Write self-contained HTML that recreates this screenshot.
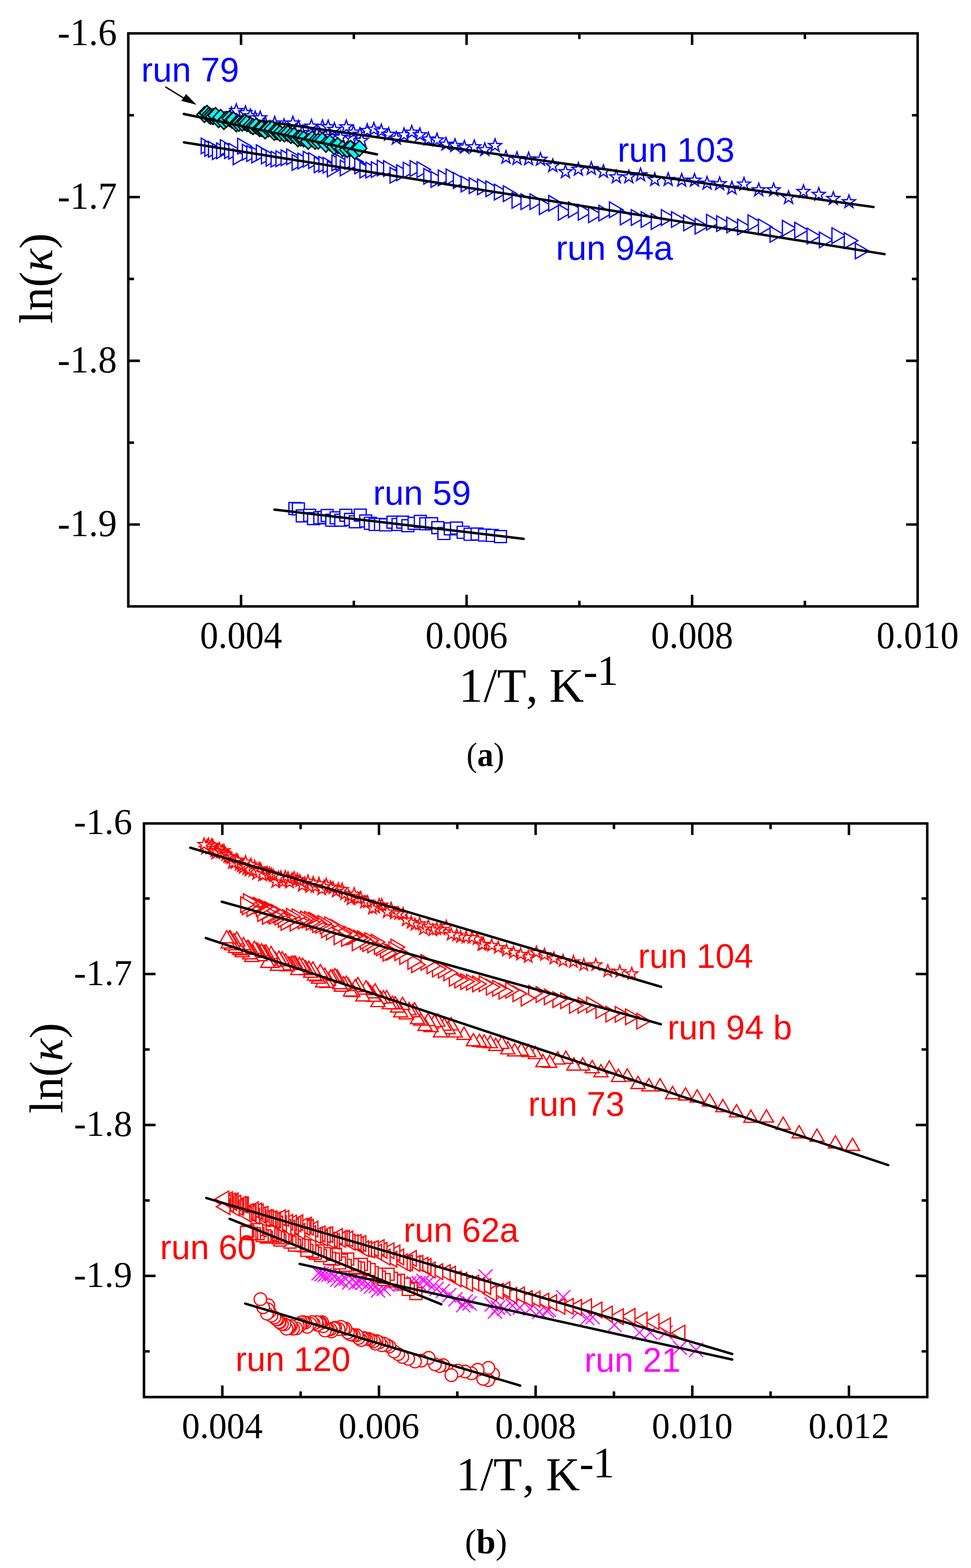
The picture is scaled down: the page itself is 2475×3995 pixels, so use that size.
<!DOCTYPE html>
<html><head><meta charset="utf-8"><title>ln(kappa) vs 1/T</title>
<style>html,body{margin:0;padding:0;background:#fff;}svg{display:block;}</style></head>
<body><svg width="2475" height="3995" viewBox="0 0 2475 3995">
<rect width="2475" height="3995" fill="#fff"/>
<rect x="327" y="85" width="2012" height="1460" fill="none" stroke="#000" stroke-width="6.4"/>
<path d="M614.4 1545v-29.5M614.4 85v29.5M1189.3 1545v-29.5M1189.3 85v29.5M1764.1 1545v-29.5M1764.1 85v29.5M901.9 1545v-14.5M901.9 85v14.5M1476.7 1545v-14.5M1476.7 85v14.5M2051.6 1545v-14.5M2051.6 85v14.5M327 502.1h29.5M2339 502.1h-29.5M327 919.3h29.5M2339 919.3h-29.5M327 1336.4h29.5M2339 1336.4h-29.5M327 293.6h14.5M2339 293.6h-14.5M327 710.7h14.5M2339 710.7h-14.5M327 1127.8h14.5M2339 1127.8h-14.5" stroke="#000" stroke-width="6.4" fill="none"/>
<rect x="367" y="2098" width="1996.5" height="1461.5" fill="none" stroke="#000" stroke-width="6.4"/>
<path d="M566.7 3559.5v-29.5M566.7 2098v29.5M966.0 3559.5v-29.5M966.0 2098v29.5M1365.3 3559.5v-29.5M1365.3 2098v29.5M1764.6 3559.5v-29.5M1764.6 2098v29.5M2163.9 3559.5v-29.5M2163.9 2098v29.5M766.3 3559.5v-14.5M766.3 2098v14.5M1165.6 3559.5v-14.5M1165.6 2098v14.5M1564.9 3559.5v-14.5M1564.9 2098v14.5M1964.2 3559.5v-14.5M1964.2 2098v14.5M367 2481.6h29.5M2363.5 2481.6h-29.5M367 2866.2h29.5M2363.5 2866.2h-29.5M367 3250.8h29.5M2363.5 3250.8h-29.5M367 2289.3h14.5M2363.5 2289.3h-14.5M367 2673.9h14.5M2363.5 2673.9h-14.5M367 3058.5h14.5M2363.5 3058.5h-14.5M367 3443.1h14.5M2363.5 3443.1h-14.5" stroke="#000" stroke-width="6.4" fill="none"/>
<text transform="translate(614.4285714285713 1651) scale(0.955 1)" text-anchor="middle" font-family="Liberation Serif, serif" font-size="97.5">0.004</text>
<text transform="translate(1189.2857142857142 1651) scale(0.955 1)" text-anchor="middle" font-family="Liberation Serif, serif" font-size="97.5">0.006</text>
<text transform="translate(1764.142857142857 1651) scale(0.955 1)" text-anchor="middle" font-family="Liberation Serif, serif" font-size="97.5">0.008</text>
<text transform="translate(2339.0 1651) scale(0.955 1)" text-anchor="middle" font-family="Liberation Serif, serif" font-size="97.5">0.010</text>
<text transform="translate(298 114.5) scale(0.985 1)" text-anchor="end" font-family="Liberation Serif, serif" font-size="97">-1.6</text>
<text transform="translate(298 531.6399999999994) scale(0.985 1)" text-anchor="end" font-family="Liberation Serif, serif" font-size="97">-1.7</text>
<text transform="translate(298 948.7799999999997) scale(0.985 1)" text-anchor="end" font-family="Liberation Serif, serif" font-size="97">-1.8</text>
<text transform="translate(298 1365.9199999999992) scale(0.985 1)" text-anchor="end" font-family="Liberation Serif, serif" font-size="97">-1.9</text>
<text transform="translate(566.6500000000001 3664) scale(0.985 1)" text-anchor="middle" font-family="Liberation Serif, serif" font-size="93">0.004</text>
<text transform="translate(965.95 3664) scale(0.985 1)" text-anchor="middle" font-family="Liberation Serif, serif" font-size="93">0.006</text>
<text transform="translate(1365.2500000000002 3664) scale(0.985 1)" text-anchor="middle" font-family="Liberation Serif, serif" font-size="93">0.008</text>
<text transform="translate(1764.5500000000002 3664) scale(0.985 1)" text-anchor="middle" font-family="Liberation Serif, serif" font-size="93">0.010</text>
<text transform="translate(2163.8500000000004 3664) scale(0.985 1)" text-anchor="middle" font-family="Liberation Serif, serif" font-size="93">0.012</text>
<text transform="translate(337 2125.0) scale(1.0 1)" text-anchor="end" font-family="Liberation Serif, serif" font-size="94">-1.6</text>
<text transform="translate(337 2509.5999999999995) scale(1.0 1)" text-anchor="end" font-family="Liberation Serif, serif" font-size="94">-1.7</text>
<text transform="translate(337 2894.2) scale(1.0 1)" text-anchor="end" font-family="Liberation Serif, serif" font-size="94">-1.8</text>
<text transform="translate(337 3278.7999999999993) scale(1.0 1)" text-anchor="end" font-family="Liberation Serif, serif" font-size="94">-1.9</text>
<text font-family="Liberation Serif, serif" font-size="122" y="1787.5"><tspan x="1169.5">1</tspan><tspan x="1233">/</tspan><tspan x="1266.9">T</tspan><tspan x="1340.7">,</tspan><tspan x="1400.15">K</tspan><tspan x="1487.35" y="1745.8" font-size="108">-</tspan><tspan x="1521.95" y="1745.4" font-size="108">1</tspan></text>
<text font-family="Liberation Serif, serif" font-size="120" y="3796.6"><tspan x="1162.45">1</tspan><tspan x="1224.3">/</tspan><tspan x="1257.5">T</tspan><tspan x="1332.2">,</tspan><tspan x="1391.4">K</tspan><tspan x="1476.9" y="3764.8" font-size="110">-</tspan><tspan x="1511.3" y="3763.5" font-size="110">1</tspan></text>
<text transform="translate(132.5 825) rotate(-90)" font-family="Liberation Serif, serif" font-size="120">ln(<tspan font-style="italic">κ</tspan>)</text>
<text transform="translate(158.7 2837) rotate(-90)" font-family="Liberation Serif, serif" font-size="120">ln(<tspan font-style="italic">κ</tspan>)</text>
<text transform="translate(1189 1952) scale(0.95 1)" font-family="Liberation Serif, serif" font-size="87">(<tspan font-weight="bold">a</tspan>)</text>
<text transform="translate(1185 3958) scale(1.0 1)" font-family="Liberation Serif, serif" font-size="88">(<tspan font-weight="bold">b</tspan>)</text>
<g fill="#fff" stroke="#0000ff" stroke-width="3.2"><path d="M512.9 351.8L547.5 371.8L512.9 391.8Z"/><path d="M522 358.2L556.6 378.2L522 398.2Z"/><path d="M531.5 360.6L566.1 380.6L531.5 400.6Z"/><path d="M541.5 366.6L576.1 386.6L541.5 406.6Z"/><path d="M552.2 364.2L586.8 384.2L552.2 404.2Z"/><path d="M561.7 355.9L596.3 375.9L561.7 395.9Z"/><path d="M572.5 363.7L607.1 383.7L572.5 403.7Z"/><path d="M583.2 365.4L617.8 385.4L583.2 405.4Z"/><path d="M594.4 379.7L629 399.7L594.4 419.7Z"/><path d="M605.8 352.3L640.4 372.3L605.8 392.3Z"/><path d="M617.7 367.8L652.3 387.8L617.7 407.8Z"/><path d="M629.1 371.3L663.7 391.3L629.1 411.3Z"/><path d="M642 374.9L676.6 394.9L642 414.9Z"/><path d="M653.4 369L688 389L653.4 409Z"/><path d="M666.5 377.3L701.1 397.3L666.5 417.3Z"/><path d="M678.4 383.2L713 403.2L678.4 423.2Z"/><path d="M691 385.6L725.6 405.6L691 425.6Z"/><path d="M703.4 384.4L738 404.4L703.4 424.4Z"/><path d="M716.5 382L751.1 402L716.5 422Z"/><path d="M730.8 379.7L765.4 399.7L730.8 419.7Z"/><path d="M744.6 394L779.2 414L744.6 434Z"/><path d="M759.4 390.4L794 410.4L759.4 430.4Z"/><path d="M772.9 385.6L807.5 405.6L772.9 425.6Z"/><path d="M786.7 389.2L821.3 409.2L786.7 429.2Z"/><path d="M801 399.9L835.6 419.9L801 439.9Z"/><path d="M812.9 398.7L847.5 418.7L812.9 438.7Z"/><path d="M823.6 401.1L858.2 421.1L823.6 441.1Z"/><path d="M834.4 410.6L869 430.6L834.4 450.6Z"/><path d="M846.1 394.9L880.7 414.9L846.1 434.9Z"/><path d="M856.6 393.6L891.2 413.6L856.6 433.6Z"/><path d="M867.2 408.1L901.8 428.1L867.2 448.1Z"/><path d="M879.1 390.9L913.7 410.9L879.1 430.9Z"/><path d="M891 392.2L925.6 412.2L891 432.2Z"/><path d="M904.3 402.8L938.9 422.8L904.3 442.8Z"/><path d="M917.5 413.4L952.1 433.4L917.5 453.4Z"/><path d="M932.5 413.4L967.1 433.4L932.5 453.4Z"/><path d="M946.5 412.1L981.1 432.1L946.5 452.1Z"/><path d="M961.7 408.1L996.3 428.1L961.7 448.1Z"/><path d="M977.8 409.4L1012.4 429.4L977.8 449.4Z"/><path d="M994.2 426.6L1028.8 446.6L994.2 466.6Z"/><path d="M1011.4 420L1046 440L1011.4 460Z"/><path d="M1027.8 413.4L1062.4 433.4L1027.8 453.4Z"/><path d="M1045.3 409.4L1079.9 429.4L1045.3 449.4Z"/><path d="M1063 412.1L1097.6 432.1L1063 452.1Z"/><path d="M1080.2 429.3L1114.8 449.3L1080.2 469.3Z"/><path d="M1098.7 437.2L1133.3 457.2L1098.7 477.2Z"/><path d="M1117.2 433.2L1151.8 453.2L1117.2 473.2Z"/><path d="M1137.1 430.6L1171.7 450.6L1137.1 470.6Z"/><path d="M1155.6 439.9L1190.2 459.9L1155.6 479.9Z"/><path d="M1175.4 449.1L1210 469.1L1175.4 489.1Z"/><path d="M1196.1 453.1L1230.7 473.1L1196.1 493.1Z"/><path d="M1217.4 456.2L1252 476.2L1217.4 496.2Z"/><path d="M1238.5 461L1273.1 481L1238.5 501Z"/><path d="M1260.2 469.4L1294.8 489.4L1260.2 509.4Z"/><path d="M1283 473.4L1317.6 493.4L1283 513.4Z"/><path d="M1305.2 490.6L1339.8 510.6L1305.2 530.6Z"/><path d="M1328 493.8L1362.6 513.8L1328 533.8Z"/><path d="M1351 493.8L1385.6 513.8L1351 533.8Z"/><path d="M1374.8 506.5L1409.4 526.5L1374.8 546.5Z"/><path d="M1398.6 498L1433.2 518L1398.6 538Z"/><path d="M1423.2 521L1457.8 541L1423.2 561Z"/><path d="M1448.9 514.4L1483.5 534.4L1448.9 554.4Z"/><path d="M1474 521L1508.6 541L1474 561Z"/><path d="M1500.4 527.1L1535 547.1L1500.4 567.1Z"/><path d="M1526.4 522.9L1561 542.9L1526.4 562.9Z"/><path d="M1553.4 514.4L1588 534.4L1553.4 554.4Z"/><path d="M1581.1 532.9L1615.7 552.9L1581.1 572.9Z"/><path d="M1609.1 534.2L1643.7 554.2L1609.1 574.2Z"/><path d="M1634.3 539.3L1668.9 559.3L1634.3 579.3Z"/><path d="M1660 544.5L1694.6 564.5L1660 584.5Z"/><path d="M1685.8 534.2L1720.4 554.2L1685.8 574.2Z"/><path d="M1711.6 539.3L1746.2 559.3L1711.6 579.3Z"/><path d="M1742.6 548L1777.2 568L1742.6 588Z"/><path d="M1771.8 556.5L1806.4 576.5L1771.8 596.5Z"/><path d="M1801 546.2L1835.6 566.2L1801 586.2Z"/><path d="M1826.8 549.7L1861.4 569.7L1826.8 589.7Z"/><path d="M1852.6 553.1L1887.2 573.1L1852.6 593.1Z"/><path d="M1880.1 558.3L1914.7 578.3L1880.1 598.3Z"/><path d="M1906.7 547.3L1941.3 567.3L1906.7 587.3Z"/><path d="M1933.1 558.2L1967.7 578.2L1933.1 598.2Z"/><path d="M1962.9 577.1L1997.5 597.1L1962.9 617.1Z"/><path d="M1994.3 561.5L2028.9 581.5L1994.3 601.5Z"/><path d="M2025.7 566.5L2060.3 586.5L2025.7 606.5Z"/><path d="M2057.1 581.4L2091.7 601.4L2057.1 621.4Z"/><path d="M2088.5 591.3L2123.1 611.3L2088.5 631.3Z"/><path d="M2120.6 580.4L2155.2 600.4L2120.6 620.4Z"/><path d="M2152 593L2186.6 613L2152 633Z"/><path d="M2180.1 619.4L2214.7 639.4L2180.1 659.4Z"/></g>
<g fill="#fff" stroke="#0000ff" stroke-width="3.2"><path d="M590 272.5L594.1 284.3L606.6 284.6L596.7 292.2L600.3 304.2L590 297L579.7 304.2L583.3 292.2L573.4 284.6L585.9 284.3Z"/><path d="M602.3 264.5L606.4 276.3L618.9 276.6L609 284.2L612.6 296.2L602.3 289L592 296.2L595.6 284.2L585.7 276.6L598.2 276.3Z"/><path d="M612 295.5L616.1 307.3L628.6 307.6L618.7 315.2L622.3 327.2L612 320L601.7 327.2L605.3 315.2L595.4 307.6L607.9 307.3Z"/><path d="M625.6 269.8L629.7 281.6L642.2 281.9L632.3 289.5L635.9 301.5L625.6 294.3L615.3 301.5L618.9 289.5L609 281.9L621.5 281.6Z"/><path d="M638 277.8L642.1 289.6L654.6 289.9L644.7 297.5L648.3 309.5L638 302.3L627.7 309.5L631.3 297.5L621.4 289.9L633.9 289.6Z"/><path d="M645 300.5L649.1 312.3L661.6 312.6L651.7 320.2L655.3 332.2L645 325L634.7 332.2L638.3 320.2L628.4 312.6L640.9 312.3Z"/><path d="M650.5 283.3L654.6 295.1L667.1 295.4L657.2 303L660.8 315L650.5 307.8L640.2 315L643.8 303L633.9 295.4L646.4 295.1Z"/><path d="M663.2 283.1L667.3 294.9L679.8 295.2L669.9 302.8L673.5 314.8L663.2 307.6L652.9 314.8L656.5 302.8L646.6 295.2L659.1 294.9Z"/><path d="M676.4 297.5L680.5 309.3L693 309.6L683.1 317.2L686.7 329.2L676.4 322L666.1 329.2L669.7 317.2L659.8 309.6L672.3 309.3Z"/><path d="M688 307.5L692.1 319.3L704.6 319.6L694.7 327.2L698.3 339.2L688 332L677.7 339.2L681.3 327.2L671.4 319.6L683.9 319.3Z"/><path d="M700.2 296.3L704.3 308.1L716.8 308.4L706.9 316L710.5 328L700.2 320.8L689.9 328L693.5 316L683.6 308.4L696.1 308.1Z"/><path d="M712 314.5L716.1 326.3L728.6 326.6L718.7 334.2L722.3 346.2L712 339L701.7 346.2L705.3 334.2L695.4 326.6L707.9 326.3Z"/><path d="M724 302.9L728.1 314.7L740.6 315L730.7 322.6L734.3 334.6L724 327.4L713.7 334.6L717.3 322.6L707.4 315L719.9 314.7Z"/><path d="M737 315.5L741.1 327.3L753.6 327.6L743.7 335.2L747.3 347.2L737 340L726.7 347.2L730.3 335.2L720.4 327.6L732.9 327.3Z"/><path d="M746.5 296.3L750.6 308.1L763.1 308.4L753.2 316L756.8 328L746.5 320.8L736.2 328L739.8 316L729.9 308.4L742.4 308.1Z"/><path d="M761 306.9L765.1 318.7L777.6 319L767.7 326.6L771.3 338.6L761 331.4L750.7 338.6L754.3 326.6L744.4 319L756.9 318.7Z"/><path d="M770 320.5L774.1 332.3L786.6 332.6L776.7 340.2L780.3 352.2L770 345L759.7 352.2L763.3 340.2L753.4 332.6L765.9 332.3Z"/><path d="M794 304.2L798.1 316L810.6 316.3L800.7 323.9L804.3 335.9L794 328.7L783.7 335.9L787.3 323.9L777.4 316.3L789.9 316Z"/><path d="M808 324.5L812.1 336.3L824.6 336.6L814.7 344.2L818.3 356.2L808 349L797.7 356.2L801.3 344.2L791.4 336.6L803.9 336.3Z"/><path d="M822 305.5L826.1 317.3L838.6 317.6L828.7 325.2L832.3 337.2L822 330L811.7 337.2L815.3 325.2L805.4 317.6L817.9 317.3Z"/><path d="M836.5 306.1L840.6 317.9L853.1 318.2L843.2 325.8L846.8 337.8L836.5 330.6L826.2 337.8L829.8 325.8L819.9 318.2L832.4 317.9Z"/><path d="M843 330.5L847.1 342.3L859.6 342.6L849.7 350.2L853.3 362.2L843 355L832.7 362.2L836.3 350.2L826.4 342.6L838.9 342.3Z"/><path d="M852.3 312.7L856.4 324.5L868.9 324.8L859 332.4L862.6 344.4L852.3 337.2L842 344.4L845.6 332.4L835.7 324.8L848.2 324.5Z"/><path d="M868 332.5L872.1 344.3L884.6 344.6L874.7 352.2L878.3 364.2L868 357L857.7 364.2L861.3 352.2L851.4 344.6L863.9 344.3Z"/><path d="M882.7 306.1L886.8 317.9L899.3 318.2L889.4 325.8L893 337.8L882.7 330.6L872.4 337.8L876 325.8L866.1 318.2L878.6 317.9Z"/><path d="M895 334.5L899.1 346.3L911.6 346.6L901.7 354.2L905.3 366.2L895 359L884.7 366.2L888.3 354.2L878.4 346.6L890.9 346.3Z"/><path d="M901 319.5L905.1 331.3L917.6 331.6L907.7 339.2L911.3 351.2L901 344L890.7 351.2L894.3 339.2L884.4 331.6L896.9 331.3Z"/><path d="M917.5 325.1L921.6 336.9L934.1 337.2L924.2 344.8L927.8 356.8L917.5 349.6L907.2 356.8L910.8 344.8L900.9 337.2L913.4 336.9Z"/><path d="M922 340.5L926.1 352.3L938.6 352.6L928.7 360.2L932.3 372.2L922 365L911.7 372.2L915.3 360.2L905.4 352.6L917.9 352.3Z"/><path d="M936 315.3L940.1 327.1L952.6 327.4L942.7 335L946.3 347L936 339.8L925.7 347L929.3 335L919.4 327.4L931.9 327.1Z"/><path d="M953 312.1L957.1 323.9L969.6 324.2L959.7 331.8L963.3 343.8L953 336.6L942.7 343.8L946.3 331.8L936.4 324.2L948.9 323.9Z"/><path d="M972 316.4L976.1 328.2L988.6 328.5L978.7 336.1L982.3 348.1L972 340.9L961.7 348.1L965.3 336.1L955.4 328.5L967.9 328.2Z"/><path d="M990.6 325.1L994.7 336.9L1007.2 337.2L997.3 344.8L1000.9 356.8L990.6 349.6L980.3 356.8L983.9 344.8L974 337.2L986.5 336.9Z"/><path d="M1010.2 335L1014.3 346.8L1026.8 347.1L1016.9 354.7L1020.5 366.7L1010.2 359.5L999.9 366.7L1003.5 354.7L993.6 347.1L1006.1 346.8Z"/><path d="M1029.9 326.2L1034 338L1046.5 338.3L1036.6 345.9L1040.2 357.9L1029.9 350.7L1019.6 357.9L1023.2 345.9L1013.3 338.3L1025.8 338Z"/><path d="M1049.5 319.7L1053.6 331.5L1066.1 331.8L1056.2 339.4L1059.8 351.4L1049.5 344.2L1039.2 351.4L1042.8 339.4L1032.9 331.8L1045.4 331.5Z"/><path d="M1070.2 326.2L1074.3 338L1086.8 338.3L1076.9 345.9L1080.5 357.9L1070.2 350.7L1059.9 357.9L1063.5 345.9L1053.6 338.3L1066.1 338Z"/><path d="M1092 337.1L1096.1 348.9L1108.6 349.2L1098.7 356.8L1102.3 368.8L1092 361.6L1081.7 368.8L1085.3 356.8L1075.4 349.2L1087.9 348.9Z"/><path d="M1113.9 339.3L1118 351.1L1130.5 351.4L1120.6 359L1124.2 371L1113.9 363.8L1103.6 371L1107.2 359L1097.3 351.4L1109.8 351.1Z"/><path d="M1136.8 350.2L1140.9 362L1153.4 362.3L1143.5 369.9L1147.1 381.9L1136.8 374.7L1126.5 381.9L1130.1 369.9L1120.2 362.3L1132.7 362Z"/><path d="M1159.7 353.5L1163.8 365.3L1176.3 365.6L1166.4 373.2L1170 385.2L1159.7 378L1149.4 385.2L1153 373.2L1143.1 365.6L1155.6 365.3Z"/><path d="M1183.7 357.9L1187.8 369.7L1200.3 370L1190.4 377.6L1194 389.6L1183.7 382.4L1173.4 389.6L1177 377.6L1167.1 370L1179.6 369.7Z"/><path d="M1208.8 356.8L1212.9 368.6L1225.4 368.9L1215.5 376.5L1219.1 388.5L1208.8 381.3L1198.5 388.5L1202.1 376.5L1192.2 368.9L1204.7 368.6Z"/><path d="M1235.7 364L1239.8 375.8L1252.3 376.1L1242.4 383.7L1246 395.7L1235.7 388.5L1225.4 395.7L1229 383.7L1219.1 376.1L1231.6 375.8Z"/><path d="M1261.9 353.7L1266 365.5L1278.5 365.8L1268.6 373.4L1272.2 385.4L1261.9 378.2L1251.6 385.4L1255.2 373.4L1245.3 365.8L1257.8 365.5Z"/><path d="M1289.7 383.9L1293.8 395.7L1306.3 396L1296.4 403.6L1300 415.6L1289.7 408.4L1279.4 415.6L1283 403.6L1273.1 396L1285.6 395.7Z"/><path d="M1317.7 386.8L1321.8 398.6L1334.3 398.9L1324.4 406.5L1328 418.5L1317.7 411.3L1307.4 418.5L1311 406.5L1301.1 398.9L1313.6 398.6Z"/><path d="M1347.4 387.8L1351.5 399.6L1364 399.9L1354.1 407.5L1357.7 419.5L1347.4 412.3L1337.1 419.5L1340.7 407.5L1330.8 399.9L1343.3 399.6Z"/><path d="M1377.6 388.8L1381.7 400.6L1394.2 400.9L1384.3 408.5L1387.9 420.5L1377.6 413.3L1367.3 420.5L1370.9 408.5L1361 400.9L1373.5 400.6Z"/><path d="M1408.9 405.1L1413 416.9L1425.5 417.2L1415.6 424.8L1419.2 436.8L1408.9 429.6L1398.6 436.8L1402.2 424.8L1392.3 417.2L1404.8 416.9Z"/><path d="M1441.3 420.5L1445.4 432.3L1457.9 432.6L1448 440.2L1451.6 452.2L1441.3 445L1431 452.2L1434.6 440.2L1424.7 432.6L1437.2 432.3Z"/><path d="M1474.2 414.1L1478.3 425.9L1490.8 426.2L1480.9 433.8L1484.5 445.8L1474.2 438.6L1463.9 445.8L1467.5 433.8L1457.6 426.2L1470.1 425.9Z"/><path d="M1507.2 412.2L1511.3 424L1523.8 424.3L1513.9 431.9L1517.5 443.9L1507.2 436.7L1496.9 443.9L1500.5 431.9L1490.6 424.3L1503.1 424Z"/><path d="M1538.2 419.8L1542.3 431.6L1554.8 431.9L1544.9 439.5L1548.5 451.5L1538.2 444.3L1527.9 451.5L1531.5 439.5L1521.6 431.9L1534.1 431.6Z"/><path d="M1570.9 433.5L1575 445.3L1587.5 445.6L1577.6 453.2L1581.2 465.2L1570.9 458L1560.6 465.2L1564.2 453.2L1554.3 445.6L1566.8 445.3Z"/><path d="M1602.8 433.5L1606.9 445.3L1619.4 445.6L1609.5 453.2L1613.1 465.2L1602.8 458L1592.5 465.2L1596.1 453.2L1586.2 445.6L1598.7 445.3Z"/><path d="M1632.7 428.4L1636.8 440.2L1649.3 440.5L1639.4 448.1L1643 460.1L1632.7 452.9L1622.4 460.1L1626 448.1L1616.1 440.5L1628.6 440.2Z"/><path d="M1668.9 440.4L1673 452.2L1685.5 452.5L1675.6 460.1L1679.2 472.1L1668.9 464.9L1658.6 472.1L1662.2 460.1L1652.3 452.5L1664.8 452.2Z"/><path d="M1703.2 440.4L1707.3 452.2L1719.8 452.5L1709.9 460.1L1713.5 472.1L1703.2 464.9L1692.9 472.1L1696.5 460.1L1686.6 452.5L1699.1 452.2Z"/><path d="M1737.6 442.1L1741.7 453.9L1754.2 454.2L1744.3 461.8L1747.9 473.8L1737.6 466.6L1727.3 473.8L1730.9 461.8L1721 454.2L1733.5 453.9Z"/><path d="M1770.3 442.1L1774.4 453.9L1786.9 454.2L1777 461.8L1780.6 473.8L1770.3 466.6L1760 473.8L1763.6 461.8L1753.7 454.2L1766.2 453.9Z"/><path d="M1802.3 449.5L1806.4 461.3L1818.9 461.6L1809 469.2L1812.6 481.2L1802.3 474L1792 481.2L1795.6 469.2L1785.7 461.6L1798.2 461.3Z"/><path d="M1834.3 451.1L1838.4 462.9L1850.9 463.2L1841 470.8L1844.6 482.8L1834.3 475.6L1824 482.8L1827.6 470.8L1817.7 463.2L1830.2 462.9Z"/><path d="M1865.5 462.1L1869.6 473.9L1882.1 474.2L1872.2 481.8L1875.8 493.8L1865.5 486.6L1855.2 493.8L1858.8 481.8L1848.9 474.2L1861.4 473.9Z"/><path d="M1896.4 452L1900.5 463.8L1913 464.1L1903.1 471.7L1906.7 483.7L1896.4 476.5L1886.1 483.7L1889.7 471.7L1879.8 464.1L1892.3 463.8Z"/><path d="M1934 466.5L1938.1 478.3L1950.6 478.6L1940.7 486.2L1944.3 498.2L1934 491L1923.7 498.2L1927.3 486.2L1917.4 478.6L1929.9 478.3Z"/><path d="M1972 466.5L1976.1 478.3L1988.6 478.6L1978.7 486.2L1982.3 498.2L1972 491L1961.7 498.2L1965.3 486.2L1955.4 478.6L1967.9 478.3Z"/><path d="M2010 486.3L2014.1 498.1L2026.6 498.4L2016.7 506L2020.3 518L2010 510.8L1999.7 518L2003.3 506L1993.4 498.4L2005.9 498.1Z"/><path d="M2048 470.8L2052.1 482.6L2064.6 482.9L2054.7 490.5L2058.3 502.5L2048 495.3L2037.7 502.5L2041.3 490.5L2031.4 482.9L2043.9 482.6Z"/><path d="M2087 478.1L2091.1 489.9L2103.6 490.2L2093.7 497.8L2097.3 509.8L2087 502.6L2076.7 509.8L2080.3 497.8L2070.4 490.2L2082.9 489.9Z"/><path d="M2124 488.6L2128.1 500.4L2140.6 500.7L2130.7 508.3L2134.3 520.3L2124 513.1L2113.7 520.3L2117.3 508.3L2107.4 500.7L2119.9 500.4Z"/><path d="M2163.8 496.9L2167.9 508.7L2180.4 509L2170.5 516.6L2174.1 528.6L2163.8 521.4L2153.5 528.6L2157.1 516.6L2147.2 509L2159.7 508.7Z"/></g>
<path d="M565 293.96500000000003L2226.6 527.5" stroke="#000" stroke-width="6.2" stroke-linecap="round" fill="none"/>
<path d="M469 362.7L2254.7 647.5" stroke="#000" stroke-width="6.2" stroke-linecap="round" fill="none"/>
<g fill="#00ffff" stroke="#000" stroke-width="3.5"><path d="M502 292L521 272L540 292L521 312Z"/><path d="M508.5 288.8L527.5 268.8L546.5 288.8L527.5 308.8Z"/><path d="M514 293.6L533 273.6L552 293.6L533 313.6Z"/><path d="M518.1 296.4L537.1 276.4L556.1 296.4L537.1 316.4Z"/><path d="M524.2 296.9L543.2 276.9L562.2 296.9L543.2 316.9Z"/><path d="M530.5 294.3L549.5 274.3L568.5 294.3L549.5 314.3Z"/><path d="M538.1 304.9L557.1 284.9L576.1 304.9L557.1 324.9Z"/><path d="M543.2 298.9L562.2 278.9L581.2 298.9L562.2 318.9Z"/><path d="M551.6 309.6L570.6 289.6L589.6 309.6L570.6 329.6Z"/><path d="M557.9 304.4L576.9 284.4L595.9 304.4L576.9 324.4Z"/><path d="M566 302.1L585 282.1L604 302.1L585 322.1Z"/><path d="M572.2 306.5L591.2 286.5L610.2 306.5L591.2 326.5Z"/><path d="M576 305.4L595 285.4L614 305.4L595 325.4Z"/><path d="M583.4 315.6L602.4 295.6L621.4 315.6L602.4 335.6Z"/><path d="M589.8 314.3L608.8 294.3L627.8 314.3L608.8 334.3Z"/><path d="M598.6 313.8L617.6 293.8L636.6 313.8L617.6 333.8Z"/><path d="M605.2 311.6L624.2 291.6L643.2 311.6L624.2 331.6Z"/><path d="M610.4 314.6L629.4 294.6L648.4 314.6L629.4 334.6Z"/><path d="M620.1 319.5L639.1 299.5L658.1 319.5L639.1 339.5Z"/><path d="M625.9 322.8L644.9 302.8L663.9 322.8L644.9 342.8Z"/><path d="M633.8 321.2L652.8 301.2L671.8 321.2L652.8 341.2Z"/><path d="M642.7 328L661.7 308L680.7 328L661.7 348Z"/><path d="M648 327.8L667 307.8L686 327.8L667 347.8Z"/><path d="M656.8 333.4L675.8 313.4L694.8 333.4L675.8 353.4Z"/><path d="M665.4 328.4L684.4 308.4L703.4 328.4L684.4 348.4Z"/><path d="M674.3 328.4L693.3 308.4L712.3 328.4L693.3 348.4Z"/><path d="M680 337.4L699 317.4L718 337.4L699 357.4Z"/><path d="M687 335.8L706 315.8L725 335.8L706 355.8Z"/><path d="M694.7 339.8L713.7 319.8L732.7 339.8L713.7 359.8Z"/><path d="M705.9 341.2L724.9 321.2L743.9 341.2L724.9 361.2Z"/><path d="M714.7 340.1L733.7 320.1L752.7 340.1L733.7 360.1Z"/><path d="M722.5 345.3L741.5 325.3L760.5 345.3L741.5 365.3Z"/><path d="M730.7 345.5L749.7 325.5L768.7 345.5L749.7 365.5Z"/><path d="M740.4 353.6L759.4 333.6L778.4 353.6L759.4 373.6Z"/><path d="M747.8 351.9L766.8 331.9L785.8 351.9L766.8 371.9Z"/><path d="M755.2 354.1L774.2 334.1L793.2 354.1L774.2 374.1Z"/><path d="M766.6 360.2L785.6 340.2L804.6 360.2L785.6 380.2Z"/><path d="M776.5 353.9L795.5 333.9L814.5 353.9L795.5 373.9Z"/><path d="M784.1 360.3L803.1 340.3L822.1 360.3L803.1 380.3Z"/><path d="M792.2 359.7L811.2 339.7L830.2 359.7L811.2 379.7Z"/><path d="M802.4 357.9L821.4 337.9L840.4 357.9L821.4 377.9Z"/><path d="M811.7 367.8L830.7 347.8L849.7 367.8L830.7 387.8Z"/><path d="M821.9 363.9L840.9 343.9L859.9 363.9L840.9 383.9Z"/><path d="M833 373.9L852 353.9L871 373.9L852 393.9Z"/><path d="M842 370.9L861 350.9L880 370.9L861 390.9Z"/><path d="M854.2 378.8L873.2 358.8L892.2 378.8L873.2 398.8Z"/><path d="M865.8 381.2L884.8 361.2L903.8 381.2L884.8 401.2Z"/><path d="M874.3 377.8L893.3 357.8L912.3 377.8L893.3 397.8Z"/><path d="M885.4 385.9L904.4 365.9L923.4 385.9L904.4 405.9Z"/><path d="M897 378L916 358L935 378L916 398Z"/></g>
<path d="M468.6 290.4L961 393.4" stroke="#000" stroke-width="6.2" stroke-linecap="round" fill="none"/>
<g fill="#fff" stroke="#0000ff" stroke-width="3.2"><path d="M736.4 1280.3h30.5v30.5h-30.5Z"/><path d="M745.3 1281.3h30.5v30.5h-30.5Z"/><path d="M755.2 1299.2h30.5v30.5h-30.5Z"/><path d="M774.1 1297.6h30.5v30.5h-30.5Z"/><path d="M784 1306.1h30.5v30.5h-30.5Z"/><path d="M799.9 1304.2h30.5v30.5h-30.5Z"/><path d="M810.8 1303.2h30.5v30.5h-30.5Z"/><path d="M818.7 1298.2h30.5v30.5h-30.5Z"/><path d="M830.6 1310.1h30.5v30.5h-30.5Z"/><path d="M841.5 1304.2h30.5v30.5h-30.5Z"/><path d="M853.4 1310.1h30.5v30.5h-30.5Z"/><path d="M866.3 1297.6h30.5v30.5h-30.5Z"/><path d="M878.2 1308.1h30.5v30.5h-30.5Z"/><path d="M890.2 1314.1h30.5v30.5h-30.5Z"/><path d="M903 1297.2h30.5v30.5h-30.5Z"/><path d="M916.9 1312.1h30.5v30.5h-30.5Z"/><path d="M928.8 1318h30.5v30.5h-30.5Z"/><path d="M940.7 1321h30.5v30.5h-30.5Z"/><path d="M954.6 1321h30.5v30.5h-30.5Z"/><path d="M967.5 1322h30.5v30.5h-30.5Z"/><path d="M986.4 1315.1h30.5v30.5h-30.5Z"/><path d="M999.3 1321h30.5v30.5h-30.5Z"/><path d="M1011.2 1315.1h30.5v30.5h-30.5Z"/><path d="M1024.3 1324.2h30.5v30.5h-30.5Z"/><path d="M1040.2 1318.2h30.5v30.5h-30.5Z"/><path d="M1056.1 1313.2h30.5v30.5h-30.5Z"/><path d="M1070 1319.2h30.5v30.5h-30.5Z"/><path d="M1084.8 1319.2h30.5v30.5h-30.5Z"/><path d="M1100.7 1329.1h30.5v30.5h-30.5Z"/><path d="M1116.2 1344h30.5v30.5h-30.5Z"/><path d="M1132.5 1332.1h30.5v30.5h-30.5Z"/><path d="M1148.3 1330.1h30.5v30.5h-30.5Z"/><path d="M1165.2 1341h30.5v30.5h-30.5Z"/><path d="M1183 1346h30.5v30.5h-30.5Z"/><path d="M1200.9 1345.4h30.5v30.5h-30.5Z"/><path d="M1219.8 1348h30.5v30.5h-30.5Z"/><path d="M1239.6 1349h30.5v30.5h-30.5Z"/><path d="M1260.4 1351.9h30.5v30.5h-30.5Z"/></g>
<path d="M699.6 1298.4L1334.5 1372.8" stroke="#000" stroke-width="6.2" stroke-linecap="round" fill="none"/>
<path d="M421.5 221.2L470 251" stroke="#000" stroke-width="3.5"/>
<path d="M501 267L474.4 239.7L462 257Z" fill="#000"/>
<text x="360" y="208" font-family="Liberation Sans, sans-serif" font-size="88" fill="#0000ff">run 79</text>
<text x="1574" y="412.2" font-family="Liberation Sans, sans-serif" font-size="88" fill="#0000ff">run 103</text>
<text x="1417" y="662.2" font-family="Liberation Sans, sans-serif" font-size="88" fill="#0000ff">run 94a</text>
<text x="951" y="1286.1" font-family="Liberation Sans, sans-serif" font-size="88" fill="#0000ff">run 59</text>
<g fill="none" stroke="#ff00ff" stroke-width="3.1"><path d="M1756.4 3421.4L1792.4 3457.4M1756.4 3457.4L1792.4 3421.4"/><path d="M1714.8 3415.9L1750.8 3451.9M1714.8 3451.9L1750.8 3415.9"/><path d="M1678.7 3377L1714.7 3413M1678.7 3413L1714.7 3377"/><path d="M1639.8 3377L1675.8 3413M1639.8 3413L1675.8 3377"/><path d="M1612 3377L1648 3413M1612 3413L1648 3377"/><path d="M1548 3357.6L1584 3393.6M1548 3393.6L1584 3357.6"/><path d="M1492.6 3338L1528.6 3374M1492.6 3374L1528.6 3338"/><path d="M1478.8 3340L1514.8 3376M1478.8 3376L1514.8 3340"/><path d="M1456.4 3324L1492.4 3360M1456.4 3360L1492.4 3324"/><path d="M1417.6 3287L1453.6 3323M1417.6 3323L1453.6 3287"/><path d="M1381 3319L1417 3355M1381 3355L1417 3319"/><path d="M1375.9 3321.4L1411.9 3357.4M1375.9 3357.4L1411.9 3321.4"/><path d="M1357 3324.2L1393 3360.2M1357 3360.2L1393 3324.2"/><path d="M1333.3 3316.3L1369.3 3352.3M1333.3 3352.3L1369.3 3316.3"/><path d="M1307 3313.6L1343 3349.6M1307 3349.6L1343 3313.6"/><path d="M1288.3 3308.3L1324.3 3344.3M1288.3 3344.3L1324.3 3308.3"/><path d="M1266.7 3316.7L1302.7 3352.7M1266.7 3352.7L1302.7 3316.7"/><path d="M1251.3 3313.6L1287.3 3349.6M1251.3 3349.6L1287.3 3313.6"/><path d="M1243.6 3323.7L1279.6 3359.7M1243.6 3359.7L1279.6 3323.7"/><path d="M1235.4 3305.7L1271.4 3341.7M1235.4 3341.7L1271.4 3305.7"/><path d="M1219.6 3234L1255.6 3270M1219.6 3270L1255.6 3234"/><path d="M1178.8 3302.8L1214.8 3338.8M1178.8 3338.8L1214.8 3302.8"/><path d="M1169 3297.8L1205 3333.8M1169 3333.8L1205 3297.8"/><path d="M1162.6 3307.5L1198.6 3343.5M1162.6 3343.5L1198.6 3307.5"/><path d="M1143 3292.5L1179 3328.5M1143 3328.5L1179 3292.5"/><path d="M1127 3282L1163 3318M1127 3318L1163 3282"/><path d="M1111 3271L1147 3307M1111 3307L1147 3271"/><path d="M1095 3266L1131 3302M1095 3302L1131 3266"/><path d="M1087 3257.1L1123 3293.1M1087 3293.1L1123 3257.1"/><path d="M1071.9 3250.7L1107.9 3286.7M1071.9 3286.7L1107.9 3250.7"/><path d="M1061.6 3245.7L1097.6 3281.7M1061.6 3281.7L1097.6 3245.7"/><path d="M1049 3251.4L1085 3287.4M1049 3287.4L1085 3251.4"/><path d="M1037 3251.5L1073 3287.5M1037 3287.5L1073 3251.5"/><path d="M1025.2 3252.3L1061.2 3288.3M1025.2 3288.3L1061.2 3252.3"/><path d="M1010.8 3253.9L1046.8 3289.9M1010.8 3289.9L1046.8 3253.9"/><path d="M1003.3 3253.7L1039.3 3289.7M1003.3 3289.7L1039.3 3253.7"/><path d="M990.7 3246.7L1026.7 3282.7M990.7 3282.7L1026.7 3246.7"/><path d="M978 3253L1014 3289M978 3289L1014 3253"/><path d="M969.2 3255.1L1005.2 3291.1M969.2 3291.1L1005.2 3255.1"/><path d="M960.1 3266L996.1 3302M960.1 3302L996.1 3266"/><path d="M945.5 3269.8L981.5 3305.8M945.5 3305.8L981.5 3269.8"/><path d="M939.9 3258.8L975.9 3294.8M939.9 3294.8L975.9 3258.8"/><path d="M927.1 3260.5L963.1 3296.5M927.1 3296.5L963.1 3260.5"/><path d="M918.9 3254.4L954.9 3290.4M918.9 3290.4L954.9 3254.4"/><path d="M906.8 3250.1L942.8 3286.1M906.8 3286.1L942.8 3250.1"/><path d="M897.1 3247.2L933.1 3283.2M897.1 3283.2L933.1 3247.2"/><path d="M888.4 3250.7L924.4 3286.7M888.4 3286.7L924.4 3250.7"/><path d="M880.1 3240.3L916.1 3276.3M880.1 3276.3L916.1 3240.3"/><path d="M872 3249.4L908 3285.4M872 3285.4L908 3249.4"/><path d="M863.2 3239.7L899.2 3275.7M863.2 3275.7L899.2 3239.7"/><path d="M851.5 3244.6L887.5 3280.6M851.5 3280.6L887.5 3244.6"/><path d="M842 3241.9L878 3277.9M842 3277.9L878 3241.9"/><path d="M834.2 3234.4L870.2 3270.4M834.2 3270.4L870.2 3234.4"/><path d="M827.1 3228.3L863.1 3264.3M827.1 3264.3L863.1 3228.3"/><path d="M818.9 3230L854.9 3266M818.9 3266L854.9 3230"/><path d="M809.8 3230.1L845.8 3266.1M809.8 3266.1L845.8 3230.1"/><path d="M801.9 3228.4L837.9 3264.4M801.9 3264.4L837.9 3228.4"/><path d="M794 3225.9L830 3261.9M794 3261.9L830 3225.9"/></g>
<g fill="#fff" stroke="#ff0000" stroke-width="3.2"><path d="M1241.0 3501.4a16 16 0 1 0 32 0a16 16 0 1 0 -32 0Z"/><path d="M1228.9 3485.2a16 16 0 1 0 32 0a16 16 0 1 0 -32 0Z"/><path d="M1228.2 3516.4a16 16 0 1 0 32 0a16 16 0 1 0 -32 0Z"/><path d="M1215.5 3513.0a16 16 0 1 0 32 0a16 16 0 1 0 -32 0Z"/><path d="M1201.6 3489.8a16 16 0 1 0 32 0a16 16 0 1 0 -32 0Z"/><path d="M1185.4 3499.0a16 16 0 1 0 32 0a16 16 0 1 0 -32 0Z"/><path d="M1169.2 3494.4a16 16 0 1 0 32 0a16 16 0 1 0 -32 0Z"/><path d="M1150.7 3492.1a16 16 0 1 0 32 0a16 16 0 1 0 -32 0Z"/><path d="M1134.5 3503.7a16 16 0 1 0 32 0a16 16 0 1 0 -32 0Z"/><path d="M1113.6 3478.2a16 16 0 1 0 32 0a16 16 0 1 0 -32 0Z"/><path d="M1104.4 3480.6a16 16 0 1 0 32 0a16 16 0 1 0 -32 0Z"/><path d="M1092.8 3476.0a16 16 0 1 0 32 0a16 16 0 1 0 -32 0Z"/><path d="M1076.6 3459.7a16 16 0 1 0 32 0a16 16 0 1 0 -32 0Z"/><path d="M1058.0 3466.7a16 16 0 1 0 32 0a16 16 0 1 0 -32 0Z"/><path d="M1041.9 3469.0a16 16 0 1 0 32 0a16 16 0 1 0 -32 0Z"/><path d="M1024.5 3462.0a16 16 0 1 0 32 0a16 16 0 1 0 -32 0Z"/><path d="M1009.5 3457.4a16 16 0 1 0 32 0a16 16 0 1 0 -32 0Z"/><path d="M999.0 3450.0a16 16 0 1 0 32 0a16 16 0 1 0 -32 0Z"/><path d="M988.6 3443.5a16 16 0 1 0 32 0a16 16 0 1 0 -32 0Z"/><path d="M976.4 3430.5a16 16 0 1 0 32 0a16 16 0 1 0 -32 0Z"/><path d="M969.2 3426.8a16 16 0 1 0 32 0a16 16 0 1 0 -32 0Z"/><path d="M962.1 3423.3a16 16 0 1 0 32 0a16 16 0 1 0 -32 0Z"/><path d="M957.4 3427.6a16 16 0 1 0 32 0a16 16 0 1 0 -32 0Z"/><path d="M951.0 3420.0a16 16 0 1 0 32 0a16 16 0 1 0 -32 0Z"/><path d="M944.0 3416.8a16 16 0 1 0 32 0a16 16 0 1 0 -32 0Z"/><path d="M940.7 3423.3a16 16 0 1 0 32 0a16 16 0 1 0 -32 0Z"/><path d="M936.7 3417.2a16 16 0 1 0 32 0a16 16 0 1 0 -32 0Z"/><path d="M928.8 3413.8a16 16 0 1 0 32 0a16 16 0 1 0 -32 0Z"/><path d="M922.7 3411.2a16 16 0 1 0 32 0a16 16 0 1 0 -32 0Z"/><path d="M916.9 3411.4a16 16 0 1 0 32 0a16 16 0 1 0 -32 0Z"/><path d="M912.1 3409.1a16 16 0 1 0 32 0a16 16 0 1 0 -32 0Z"/><path d="M908.0 3410.0a16 16 0 1 0 32 0a16 16 0 1 0 -32 0Z"/><path d="M904.6 3414.2a16 16 0 1 0 32 0a16 16 0 1 0 -32 0Z"/><path d="M897.8 3409.0a16 16 0 1 0 32 0a16 16 0 1 0 -32 0Z"/><path d="M893.2 3401.9a16 16 0 1 0 32 0a16 16 0 1 0 -32 0Z"/><path d="M885.9 3401.9a16 16 0 1 0 32 0a16 16 0 1 0 -32 0Z"/><path d="M879.6 3400.4a16 16 0 1 0 32 0a16 16 0 1 0 -32 0Z"/><path d="M876.4 3399.5a16 16 0 1 0 32 0a16 16 0 1 0 -32 0Z"/><path d="M870.8 3395.1a16 16 0 1 0 32 0a16 16 0 1 0 -32 0Z"/><path d="M864.5 3385.2a16 16 0 1 0 32 0a16 16 0 1 0 -32 0Z"/><path d="M859.6 3386.0a16 16 0 1 0 32 0a16 16 0 1 0 -32 0Z"/><path d="M852.6 3380.5a16 16 0 1 0 32 0a16 16 0 1 0 -32 0Z"/><path d="M847.3 3386.4a16 16 0 1 0 32 0a16 16 0 1 0 -32 0Z"/><path d="M838.3 3382.9a16 16 0 1 0 32 0a16 16 0 1 0 -32 0Z"/><path d="M834.7 3384.2a16 16 0 1 0 32 0a16 16 0 1 0 -32 0Z"/><path d="M828.8 3392.4a16 16 0 1 0 32 0a16 16 0 1 0 -32 0Z"/><path d="M825.9 3387.0a16 16 0 1 0 32 0a16 16 0 1 0 -32 0Z"/><path d="M820.0 3388.0a16 16 0 1 0 32 0a16 16 0 1 0 -32 0Z"/><path d="M814.8 3383.4a16 16 0 1 0 32 0a16 16 0 1 0 -32 0Z"/><path d="M812.1 3390.0a16 16 0 1 0 32 0a16 16 0 1 0 -32 0Z"/><path d="M807.9 3379.1a16 16 0 1 0 32 0a16 16 0 1 0 -32 0Z"/><path d="M805.0 3368.6a16 16 0 1 0 32 0a16 16 0 1 0 -32 0Z"/><path d="M801.3 3370.9a16 16 0 1 0 32 0a16 16 0 1 0 -32 0Z"/><path d="M798.0 3372.0a16 16 0 1 0 32 0a16 16 0 1 0 -32 0Z"/><path d="M792.8 3375.4a16 16 0 1 0 32 0a16 16 0 1 0 -32 0Z"/><path d="M790.7 3368.6a16 16 0 1 0 32 0a16 16 0 1 0 -32 0Z"/><path d="M783.4 3372.4a16 16 0 1 0 32 0a16 16 0 1 0 -32 0Z"/><path d="M778.8 3368.6a16 16 0 1 0 32 0a16 16 0 1 0 -32 0Z"/><path d="M774.7 3373.0a16 16 0 1 0 32 0a16 16 0 1 0 -32 0Z"/><path d="M766.9 3380.5a16 16 0 1 0 32 0a16 16 0 1 0 -32 0Z"/><path d="M762.1 3369.9a16 16 0 1 0 32 0a16 16 0 1 0 -32 0Z"/><path d="M757.3 3368.6a16 16 0 1 0 32 0a16 16 0 1 0 -32 0Z"/><path d="M751.8 3369.2a16 16 0 1 0 32 0a16 16 0 1 0 -32 0Z"/><path d="M750.0 3374.0a16 16 0 1 0 32 0a16 16 0 1 0 -32 0Z"/><path d="M748.0 3377.4a16 16 0 1 0 32 0a16 16 0 1 0 -32 0Z"/><path d="M743.0 3378.0a16 16 0 1 0 32 0a16 16 0 1 0 -32 0Z"/><path d="M739.0 3384.5a16 16 0 1 0 32 0a16 16 0 1 0 -32 0Z"/><path d="M731.0 3385.2a16 16 0 1 0 32 0a16 16 0 1 0 -32 0Z"/><path d="M725.4 3378.6a16 16 0 1 0 32 0a16 16 0 1 0 -32 0Z"/><path d="M722.0 3383.0a16 16 0 1 0 32 0a16 16 0 1 0 -32 0Z"/><path d="M719.4 3380.9a16 16 0 1 0 32 0a16 16 0 1 0 -32 0Z"/><path d="M714.5 3385.2a16 16 0 1 0 32 0a16 16 0 1 0 -32 0Z"/><path d="M708.9 3374.1a16 16 0 1 0 32 0a16 16 0 1 0 -32 0Z"/><path d="M702.6 3373.3a16 16 0 1 0 32 0a16 16 0 1 0 -32 0Z"/><path d="M697.3 3369.1a16 16 0 1 0 32 0a16 16 0 1 0 -32 0Z"/><path d="M696.0 3368.0a16 16 0 1 0 32 0a16 16 0 1 0 -32 0Z"/><path d="M692.2 3361.5a16 16 0 1 0 32 0a16 16 0 1 0 -32 0Z"/><path d="M688.3 3361.4a16 16 0 1 0 32 0a16 16 0 1 0 -32 0Z"/><path d="M683.4 3356.8a16 16 0 1 0 32 0a16 16 0 1 0 -32 0Z"/><path d="M676.0 3352.0a16 16 0 1 0 32 0a16 16 0 1 0 -32 0Z"/><path d="M670.9 3342.4a16 16 0 1 0 32 0a16 16 0 1 0 -32 0Z"/><path d="M668.0 3325.7a16 16 0 1 0 32 0a16 16 0 1 0 -32 0Z"/><path d="M666.8 3336.1a16 16 0 1 0 32 0a16 16 0 1 0 -32 0Z"/><path d="M664.5 3347.1a16 16 0 1 0 32 0a16 16 0 1 0 -32 0Z"/><path d="M654.8 3330.9a16 16 0 1 0 32 0a16 16 0 1 0 -32 0Z"/><path d="M647.8 3310.2a16 16 0 1 0 32 0a16 16 0 1 0 -32 0Z"/></g>
<g fill="#fff" stroke="#ff0000" stroke-width="3.2"><path d="M1044.8 3280.6h30.5v30.5h-30.5Z"/><path d="M1032.8 3267.4h30.5v30.5h-30.5Z"/><path d="M1025.3 3270h30.5v30.5h-30.5Z"/><path d="M1015.1 3256.5h30.5v30.5h-30.5Z"/><path d="M1000.4 3246.6h30.5v30.5h-30.5Z"/><path d="M991.4 3248.4h30.5v30.5h-30.5Z"/><path d="M982.8 3241.5h30.5v30.5h-30.5Z"/><path d="M974 3231.3h30.5v30.5h-30.5Z"/><path d="M963.8 3244.8h30.5v30.5h-30.5Z"/><path d="M951.9 3238.5h30.5v30.5h-30.5Z"/><path d="M944.3 3231h30.5v30.5h-30.5Z"/><path d="M933.4 3227h30.5v30.5h-30.5Z"/><path d="M925.7 3219.4h30.5v30.5h-30.5Z"/><path d="M913.8 3214h30.5v30.5h-30.5Z"/><path d="M906.1 3206.1h30.5v30.5h-30.5Z"/><path d="M898.8 3215.6h30.5v30.5h-30.5Z"/><path d="M889.7 3213.9h30.5v30.5h-30.5Z"/><path d="M882.8 3207.1h30.5v30.5h-30.5Z"/><path d="M871.2 3192.6h30.5v30.5h-30.5Z"/><path d="M864.8 3208.5h30.5v30.5h-30.5Z"/><path d="M855.4 3195.5h30.5v30.5h-30.5Z"/><path d="M850.4 3202.5h30.5v30.5h-30.5Z"/><path d="M840.1 3180.7h30.5v30.5h-30.5Z"/><path d="M834.8 3192.7h30.5v30.5h-30.5Z"/><path d="M825.1 3191.1h30.5v30.5h-30.5Z"/><path d="M816.6 3181h30.5v30.5h-30.5Z"/><path d="M811.7 3178.8h30.5v30.5h-30.5Z"/><path d="M801.7 3183.7h30.5v30.5h-30.5Z"/><path d="M795.5 3171.8h30.5v30.5h-30.5Z"/><path d="M788.3 3178.2h30.5v30.5h-30.5Z"/><path d="M781.2 3173.8h30.5v30.5h-30.5Z"/><path d="M774.5 3159.2h30.5v30.5h-30.5Z"/><path d="M767 3170.5h30.5v30.5h-30.5Z"/><path d="M761 3159.2h30.5v30.5h-30.5Z"/><path d="M755.8 3158.1h30.5v30.5h-30.5Z"/><path d="M746.7 3152.7h30.5v30.5h-30.5Z"/><path d="M740.4 3143.4h30.5v30.5h-30.5Z"/><path d="M735.2 3157.1h30.5v30.5h-30.5Z"/><path d="M729.6 3143.2h30.5v30.5h-30.5Z"/><path d="M724 3149.4h30.5v30.5h-30.5Z"/><path d="M715.4 3136.1h30.5v30.5h-30.5Z"/><path d="M711.8 3131.8h30.5v30.5h-30.5Z"/><path d="M705.9 3139.3h30.5v30.5h-30.5Z"/><path d="M698.2 3144.2h30.5v30.5h-30.5Z"/><path d="M693.9 3138.4h30.5v30.5h-30.5Z"/><path d="M686.5 3134.3h30.5v30.5h-30.5Z"/><path d="M680 3132.7h30.5v30.5h-30.5Z"/><path d="M675.4 3128.9h30.5v30.5h-30.5Z"/><path d="M670 3124h30.5v30.5h-30.5Z"/><path d="M663.7 3136.6h30.5v30.5h-30.5Z"/><path d="M660 3133.3h30.5v30.5h-30.5Z"/><path d="M652.9 3133h30.5v30.5h-30.5Z"/><path d="M647.7 3120.1h30.5v30.5h-30.5Z"/><path d="M642.6 3127.8h30.5v30.5h-30.5Z"/><path d="M639.1 3117.5h30.5v30.5h-30.5Z"/><path d="M633.2 3128.3h30.5v30.5h-30.5Z"/><path d="M626.4 3126.9h30.5v30.5h-30.5Z"/><path d="M621.8 3127.8h30.5v30.5h-30.5Z"/><path d="M616.4 3121.3h30.5v30.5h-30.5Z"/><path d="M612.8 3124.9h30.5v30.5h-30.5Z"/></g>
<g fill="#fff" stroke="#ff0000" stroke-width="3.2"><path d="M1745.7 3376.4L1711.1 3396.4L1745.7 3416.4Z"/><path d="M1708.7 3357.8L1674.1 3377.8L1708.7 3397.8Z"/><path d="M1679.6 3347.3L1645 3367.3L1679.6 3387.3Z"/><path d="M1649.2 3343.3L1614.6 3363.3L1649.2 3383.3Z"/><path d="M1618.4 3334L1583.8 3354L1618.4 3374Z"/><path d="M1588.6 3334.7L1554 3354.7L1588.6 3374.7Z"/><path d="M1560.5 3328L1525.9 3348L1560.5 3368Z"/><path d="M1534.1 3317.5L1499.5 3337.5L1534.1 3357.5Z"/><path d="M1507.6 3309.3L1473 3329.3L1507.6 3349.3Z"/><path d="M1482.1 3311L1447.5 3331L1482.1 3351Z"/><path d="M1460.9 3308.3L1426.3 3328.3L1460.9 3348.3Z"/><path d="M1439.8 3308.3L1405.2 3328.3L1439.8 3348.3Z"/><path d="M1418.6 3299L1384 3319L1418.6 3339Z"/><path d="M1398.8 3295L1364.2 3315L1398.8 3335Z"/><path d="M1376.3 3289.8L1341.7 3309.8L1376.3 3329.8Z"/><path d="M1356.5 3288.5L1321.9 3308.5L1356.5 3328.5Z"/><path d="M1336.5 3279.2L1301.9 3299.2L1336.5 3319.2Z"/><path d="M1316.8 3280.5L1282.2 3300.5L1316.8 3320.5Z"/><path d="M1299.5 3266L1264.9 3286L1299.5 3306Z"/><path d="M1282.5 3270L1247.9 3290L1282.5 3310Z"/><path d="M1265.2 3275L1230.6 3295L1265.2 3315Z"/><path d="M1250.6 3258L1216 3278L1250.6 3298Z"/><path d="M1234.7 3255.4L1200.1 3275.4L1234.7 3295.4Z"/><path d="M1220.2 3248.8L1185.6 3268.8L1220.2 3288.8Z"/><path d="M1204.3 3250L1169.7 3270L1204.3 3290Z"/><path d="M1189.8 3242.2L1155.2 3262.2L1189.8 3282.2Z"/><path d="M1175.2 3238.2L1140.6 3258.2L1175.2 3278.2Z"/><path d="M1160.7 3226.3L1126.1 3246.3L1160.7 3266.3Z"/><path d="M1147.4 3222.3L1112.8 3242.3L1147.4 3262.3Z"/><path d="M1128.5 3220L1093.9 3240L1128.5 3260Z"/><path d="M1109.1 3215.7L1074.5 3235.7L1109.1 3255.7Z"/><path d="M1098.5 3206.7L1063.9 3226.7L1098.5 3246.7Z"/><path d="M1090.5 3203.4L1055.8 3223.4L1090.5 3243.4Z"/><path d="M1077.7 3198.4L1043.1 3218.4L1077.7 3238.4Z"/><path d="M1070.3 3199.2L1035.7 3219.2L1070.3 3239.2Z"/><path d="M1061.1 3186.3L1026.4 3206.3L1061.1 3226.3Z"/><path d="M1051.2 3197.6L1016.6 3217.6L1051.2 3237.6Z"/><path d="M1045.8 3199L1011.2 3219L1045.8 3239Z"/><path d="M1037.8 3195.2L1003.2 3215.2L1037.8 3235.2Z"/><path d="M1028.8 3182.5L994.2 3202.5L1028.8 3222.5Z"/><path d="M1019.1 3172.2L984.5 3192.2L1019.1 3212.2Z"/><path d="M1011.4 3188.2L976.8 3208.2L1011.4 3228.2Z"/><path d="M1004 3166.7L969.3 3186.7L1004 3206.7Z"/><path d="M994.3 3182.9L959.7 3202.9L994.3 3222.9Z"/><path d="M986.2 3165.7L951.5 3185.7L986.2 3205.7Z"/><path d="M978.9 3158.6L944.3 3178.6L978.9 3198.6Z"/><path d="M972.6 3170.1L938 3190.1L972.6 3210.1Z"/><path d="M963.9 3160.8L929.3 3180.8L963.9 3200.8Z"/><path d="M954.7 3164.4L920.1 3184.4L954.7 3204.4Z"/><path d="M947 3162.5L912.4 3182.5L947 3202.5Z"/><path d="M939.7 3161.5L905 3181.5L939.7 3201.5Z"/><path d="M932.4 3148.2L897.7 3168.2L932.4 3188.2Z"/><path d="M926 3150.8L891.4 3170.8L926 3190.8Z"/><path d="M920.4 3145.3L885.8 3165.3L920.4 3185.3Z"/><path d="M912.6 3145.7L877.9 3165.7L912.6 3185.7Z"/><path d="M904.7 3144.7L870 3164.7L904.7 3184.7Z"/><path d="M899.3 3136.3L864.7 3156.3L899.3 3176.3Z"/><path d="M890.6 3135L855.9 3155L890.6 3175Z"/><path d="M884.7 3134.5L850.1 3154.5L884.7 3174.5Z"/><path d="M880.1 3137.6L845.4 3157.6L880.1 3177.6Z"/><path d="M872.5 3130.4L837.9 3150.4L872.5 3170.4Z"/><path d="M865.1 3142.9L830.5 3162.9L865.1 3182.9Z"/><path d="M859.5 3138L824.8 3158L859.5 3178Z"/><path d="M852.7 3140L818 3160L852.7 3180Z"/><path d="M847.9 3125.5L813.2 3145.5L847.9 3165.5Z"/><path d="M841.4 3126.7L806.8 3146.7L841.4 3166.7Z"/><path d="M834.9 3134.2L800.2 3154.2L834.9 3174.2Z"/><path d="M828.2 3123.8L793.5 3143.8L828.2 3163.8Z"/><path d="M822 3126.3L787.4 3146.3L822 3166.3Z"/><path d="M817 3128.2L782.4 3148.2L817 3168.2Z"/><path d="M810.2 3111.4L775.6 3131.4L810.2 3151.4Z"/><path d="M804.4 3123.3L769.8 3143.3L804.4 3163.3Z"/><path d="M798.5 3106.7L763.8 3126.7L798.5 3146.7Z"/><path d="M793.2 3101.5L758.5 3121.5L793.2 3141.5Z"/><path d="M789.5 3107.5L754.9 3127.5L789.5 3147.5Z"/><path d="M783 3104L748.4 3124L783 3144Z"/><path d="M776.8 3117.5L742.2 3137.5L776.8 3157.5Z"/><path d="M771.7 3095.1L737 3115.1L771.7 3135.1Z"/><path d="M766.6 3098.5L731.9 3118.5L766.6 3138.5Z"/><path d="M760.5 3104.9L725.9 3124.9L760.5 3144.9Z"/><path d="M755.5 3096.2L720.9 3116.2L755.5 3136.2Z"/><path d="M751.2 3109L716.5 3129L751.2 3149Z"/><path d="M745.7 3094.3L711 3114.3L745.7 3134.3Z"/><path d="M741.3 3106.2L706.7 3126.2L741.3 3146.2Z"/><path d="M736 3084.2L701.3 3104.2L736 3124.2Z"/><path d="M730 3097.5L695.3 3117.5L730 3137.5Z"/><path d="M727 3082.6L692.4 3102.6L727 3122.6Z"/><path d="M720.5 3098.2L685.8 3118.2L720.5 3138.2Z"/><path d="M715.3 3088.1L680.7 3108.1L715.3 3128.1Z"/><path d="M711.4 3089.6L676.7 3109.6L711.4 3129.6Z"/><path d="M706.7 3085.8L672.1 3105.8L706.7 3125.8Z"/><path d="M702.6 3085.7L667.9 3105.7L702.6 3125.7Z"/><path d="M696.6 3082.6L662 3102.6L696.6 3122.6Z"/><path d="M692.1 3082L657.4 3102L692.1 3122Z"/><path d="M687.4 3085L652.7 3105L687.4 3125Z"/><path d="M683 3073.4L648.4 3093.4L683 3113.4Z"/><path d="M678.6 3083.6L644 3103.6L678.6 3123.6Z"/><path d="M675.8 3075.6L641.1 3095.6L675.8 3115.6Z"/><path d="M670.7 3067.6L636 3087.6L670.7 3107.6Z"/><path d="M666.5 3065.5L631.8 3085.5L666.5 3105.5Z"/><path d="M661.3 3078.7L626.7 3098.7L661.3 3118.7Z"/><path d="M658.2 3062.3L623.6 3082.3L658.2 3102.3Z"/><path d="M652.9 3069.4L618.3 3089.4L652.9 3109.4Z"/><path d="M650.4 3070.7L615.7 3090.7L650.4 3110.7Z"/><path d="M645.4 3066.9L610.7 3086.9L645.4 3106.9Z"/><path d="M641.2 3073.5L606.6 3093.5L641.2 3113.5Z"/><path d="M636.8 3071.3L602.1 3091.3L636.8 3111.3Z"/><path d="M633 3050L598.4 3070L633 3090Z"/><path d="M629.7 3049.4L595.1 3069.4L629.7 3089.4Z"/><path d="M625.8 3048.6L591.1 3068.6L625.8 3088.6Z"/><path d="M620.9 3055L586.3 3075L620.9 3095Z"/><path d="M618.3 3055.6L583.7 3075.6L618.3 3095.6Z"/><path d="M613.6 3045.4L579 3065.4L613.6 3085.4Z"/><path d="M609.6 3057.7L574.9 3077.7L609.6 3097.7Z"/><path d="M606.9 3039.3L572.2 3059.3L606.9 3079.3Z"/><path d="M603 3043.7L568.3 3063.7L603 3083.7Z"/><path d="M599.2 3040L564.6 3060L599.2 3080Z"/><path d="M594.8 3047.8L560.2 3067.8L594.8 3087.8Z"/><path d="M592.5 3036.7L557.8 3056.7L592.5 3076.7Z"/><path d="M588.4 3043.5L553.8 3063.5L588.4 3083.5Z"/><path d="M586 3054.5L551.4 3074.5L586 3094.5Z"/><path d="M583.1 3034.7L548.5 3054.7L583.1 3074.7Z"/></g>
<g fill="#fff" stroke="#ff0000" stroke-width="3.2"><path d="M2155 2930.9L2173 2899.7L2191 2930.9Z"/><path d="M2111.4 2924.9L2129.4 2893.7L2147.4 2924.9Z"/><path d="M2064.5 2907.9L2082.5 2876.7L2100.5 2907.9Z"/><path d="M2018.9 2899.1L2036.9 2867.9L2054.9 2899.1Z"/><path d="M1978.4 2877.3L1996.4 2846.1L2014.4 2877.3Z"/><path d="M1935.6 2858.6L1953.6 2827.4L1971.6 2858.6Z"/><path d="M1895.9 2859.4L1913.9 2828.2L1931.9 2859.4Z"/><path d="M1859.4 2845.5L1877.4 2814.3L1895.4 2845.5Z"/><path d="M1824.5 2832.5L1842.5 2801.3L1860.5 2832.5Z"/><path d="M1790.7 2817.8L1808.7 2786.6L1826.7 2817.8Z"/><path d="M1759 2807.9L1777 2776.7L1795 2807.9Z"/><path d="M1729.2 2802.7L1747.2 2771.5L1765.2 2802.7Z"/><path d="M1696.3 2799.1L1714.3 2767.9L1732.3 2799.1Z"/><path d="M1664.5 2779.3L1682.5 2748.1L1700.5 2779.3Z"/><path d="M1636 2779.3L1654 2748.1L1672 2779.3Z"/><path d="M1608.3 2773.4L1626.3 2742.2L1644.3 2773.4Z"/><path d="M1580.8 2754.5L1598.8 2723.3L1616.8 2754.5Z"/><path d="M1558.4 2755.5L1576.4 2724.3L1594.4 2755.5Z"/><path d="M1535 2734.2L1553 2703L1571 2734.2Z"/><path d="M1513.7 2743.5L1531.7 2712.3L1549.7 2743.5Z"/><path d="M1491.4 2733.2L1509.4 2702L1527.4 2733.2Z"/><path d="M1467.3 2726.3L1485.3 2695.1L1503.3 2726.3Z"/><path d="M1444.9 2726.3L1462.9 2695.1L1480.9 2726.3Z"/><path d="M1424.3 2709.1L1442.3 2677.9L1460.3 2709.1Z"/><path d="M1403.7 2710.8L1421.7 2679.6L1439.7 2710.8Z"/><path d="M1383 2719.4L1401 2688.2L1419 2719.4Z"/><path d="M1365.8 2717.7L1383.8 2686.5L1401.8 2717.7Z"/><path d="M1346.9 2697L1364.9 2665.8L1382.9 2697Z"/><path d="M1329.7 2691.9L1347.7 2660.7L1365.7 2691.9Z"/><path d="M1310.8 2688.4L1328.8 2657.2L1346.8 2688.4Z"/><path d="M1293.6 2690.2L1311.6 2659L1329.6 2690.2Z"/><path d="M1276.4 2685L1294.4 2653.8L1312.4 2685Z"/><path d="M1261 2671.2L1279 2640L1297 2671.2Z"/><path d="M1245.5 2676.4L1263.5 2645.2L1281.5 2676.4Z"/><path d="M1231.7 2669.5L1249.7 2638.3L1267.7 2669.5Z"/><path d="M1216.3 2667.8L1234.3 2636.6L1252.3 2667.8Z"/><path d="M1204.2 2666.1L1222.2 2634.9L1240.2 2666.1Z"/><path d="M1188.7 2664.4L1206.7 2633.2L1224.7 2664.4Z"/><path d="M1164.7 2648.2L1182.7 2617L1200.7 2648.2Z"/><path d="M1142.3 2642L1160.3 2610.8L1178.3 2642Z"/><path d="M1132 2623.9L1150 2592.7L1168 2623.9Z"/><path d="M1124.4 2633.6L1142.4 2602.5L1160.4 2633.6Z"/><path d="M1114.2 2624.8L1132.2 2593.6L1150.2 2624.8Z"/><path d="M1104.8 2641.8L1122.8 2610.6L1140.8 2641.8Z"/><path d="M1098.2 2614.5L1116.2 2583.3L1134.2 2614.5Z"/><path d="M1089.5 2616.4L1107.5 2585.2L1125.5 2616.4Z"/><path d="M1080.8 2628.3L1098.8 2597.1L1116.8 2628.3Z"/><path d="M1073.3 2613.1L1091.3 2582L1109.3 2613.1Z"/><path d="M1065.4 2625.3L1083.4 2594.2L1101.4 2625.3Z"/><path d="M1054.3 2611.9L1072.3 2580.8L1090.3 2611.9Z"/><path d="M1046.1 2608.2L1064.1 2577L1082.1 2608.2Z"/><path d="M1038.5 2585.5L1056.5 2554.4L1074.5 2585.5Z"/><path d="M1034.1 2590.3L1052.1 2559.1L1070.1 2590.3Z"/><path d="M1024.8 2585.4L1042.8 2554.3L1060.8 2585.4Z"/><path d="M1017.2 2595.8L1035.2 2564.6L1053.2 2595.8Z"/><path d="M1008.2 2572L1026.2 2540.9L1044.2 2572Z"/><path d="M1003.5 2590.8L1021.5 2559.6L1039.5 2590.8Z"/><path d="M995.2 2578.7L1013.2 2547.5L1031.2 2578.7Z"/><path d="M989.2 2570.4L1007.2 2539.2L1025.2 2570.4Z"/><path d="M982.1 2568.9L1000.1 2537.7L1018.1 2568.9Z"/><path d="M974.2 2570L992.2 2538.8L1010.2 2570Z"/><path d="M967.5 2554.7L985.5 2523.5L1003.5 2554.7Z"/><path d="M959.2 2555.2L977.2 2524L995.2 2555.2Z"/><path d="M951.6 2556L969.6 2524.9L987.6 2556Z"/><path d="M945.2 2564.5L963.2 2533.3L981.2 2564.5Z"/><path d="M938.1 2537.6L956.1 2506.4L974.1 2537.6Z"/><path d="M934.1 2551.2L952.1 2520L970.1 2551.2Z"/><path d="M927.2 2542.3L945.2 2511.2L963.2 2542.3Z"/><path d="M919.9 2534.1L937.9 2503L955.9 2534.1Z"/><path d="M915 2529.8L933 2498.7L951 2529.8Z"/><path d="M906.9 2550.1L924.9 2518.9L942.9 2550.1Z"/><path d="M899.7 2532.9L917.7 2501.7L935.7 2532.9Z"/><path d="M894.4 2521.7L912.4 2490.5L930.4 2521.7Z"/><path d="M887.7 2526.7L905.7 2495.5L923.7 2526.7Z"/><path d="M881.4 2538.8L899.4 2507.6L917.4 2538.8Z"/><path d="M875.5 2537.5L893.5 2506.3L911.5 2537.5Z"/><path d="M870 2523.3L888 2492.1L906 2523.3Z"/><path d="M864.9 2518.4L882.9 2487.2L900.9 2518.4Z"/><path d="M858.1 2519.7L876.1 2488.5L894.1 2519.7Z"/><path d="M851.8 2525.4L869.8 2494.2L887.8 2525.4Z"/><path d="M848.3 2519.1L866.3 2487.9L884.3 2519.1Z"/><path d="M841.7 2502L859.7 2470.9L877.7 2502Z"/><path d="M836 2499.1L854 2467.9L872 2499.1Z"/><path d="M830.3 2502.1L848.3 2470.9L866.3 2502.1Z"/><path d="M825.1 2501.7L843.1 2470.6L861.1 2501.7Z"/><path d="M819.4 2509.8L837.4 2478.6L855.4 2509.8Z"/><path d="M815.2 2515.9L833.2 2484.7L851.2 2515.9Z"/><path d="M810 2497.9L828 2466.7L846 2497.9Z"/><path d="M804.2 2514.5L822.2 2483.3L840.2 2514.5Z"/><path d="M798.5 2488.3L816.5 2457.1L834.5 2488.3Z"/><path d="M793.8 2504.8L811.8 2473.6L829.8 2504.8Z"/><path d="M790 2499.5L808 2468.3L826 2499.5Z"/><path d="M783.3 2497L801.3 2465.8L819.3 2497Z"/><path d="M779.6 2482L797.6 2450.8L815.6 2482Z"/><path d="M773.8 2489.9L791.8 2458.8L809.8 2489.9Z"/><path d="M769.2 2480.1L787.2 2449L805.2 2480.1Z"/><path d="M763.6 2483.4L781.6 2452.2L799.6 2483.4Z"/><path d="M760.5 2478.1L778.5 2447L796.5 2478.1Z"/><path d="M753.6 2472.2L771.6 2441.1L789.6 2472.2Z"/><path d="M749.7 2480.3L767.7 2449.1L785.7 2480.3Z"/><path d="M745.3 2470.1L763.3 2439L781.3 2470.1Z"/><path d="M740.9 2483L758.9 2451.8L776.9 2483Z"/><path d="M735.3 2467.3L753.3 2436.1L771.3 2467.3Z"/><path d="M731.8 2467.2L749.8 2436L767.8 2467.2Z"/><path d="M726.5 2466.6L744.5 2435.4L762.5 2466.6Z"/><path d="M723 2470.1L741 2439L759 2470.1Z"/><path d="M718.3 2468.8L736.3 2437.6L754.3 2468.8Z"/><path d="M714 2473.3L732 2442.1L750 2473.3Z"/><path d="M709.8 2461.3L727.8 2430.2L745.8 2461.3Z"/><path d="M706.1 2470.8L724.1 2439.7L742.1 2470.8Z"/><path d="M701.3 2455.9L719.3 2424.7L737.3 2455.9Z"/><path d="M697.3 2461L715.3 2429.8L733.3 2461Z"/><path d="M693 2454.5L711 2423.3L729 2454.5Z"/><path d="M689 2472.1L707 2440.9L725 2472.1Z"/><path d="M683.5 2456.6L701.5 2425.5L719.5 2456.6Z"/><path d="M680.8 2461.9L698.8 2430.7L716.8 2461.9Z"/><path d="M675.3 2464.6L693.3 2433.4L711.3 2464.6Z"/><path d="M672.9 2442.3L690.9 2411.1L708.9 2442.3Z"/><path d="M667.9 2459.3L685.9 2428.2L703.9 2459.3Z"/><path d="M664.4 2464.6L682.4 2433.5L700.4 2464.6Z"/><path d="M660 2438.3L678 2407.2L696 2438.3Z"/><path d="M655.9 2440.2L673.9 2409L691.9 2440.2Z"/><path d="M652.5 2440.1L670.5 2408.9L688.5 2440.1Z"/><path d="M648.5 2435.7L666.5 2404.5L684.5 2435.7Z"/><path d="M644.9 2447.6L662.9 2416.4L680.9 2447.6Z"/><path d="M641.3 2436.4L659.3 2405.2L677.3 2436.4Z"/><path d="M636.9 2433.4L654.9 2402.2L672.9 2433.4Z"/><path d="M634.2 2439.1L652.2 2407.9L670.2 2439.1Z"/><path d="M630.6 2429L648.6 2397.8L666.6 2429Z"/><path d="M626.9 2439.1L644.9 2407.9L662.9 2439.1Z"/><path d="M623.5 2449.6L641.5 2418.4L659.5 2449.6Z"/><path d="M618.7 2442.8L636.7 2411.6L654.7 2442.8Z"/><path d="M615.8 2427.3L633.8 2396.1L651.8 2427.3Z"/><path d="M612.3 2427.1L630.3 2395.9L648.3 2427.1Z"/><path d="M609.4 2431.4L627.4 2400.2L645.4 2431.4Z"/><path d="M606.1 2427.8L624.1 2396.6L642.1 2427.8Z"/><path d="M602.6 2419.7L620.6 2388.5L638.6 2419.7Z"/><path d="M599.1 2437.5L617.1 2406.4L635.1 2437.5Z"/><path d="M595.8 2432.6L613.8 2401.4L631.8 2432.6Z"/><path d="M592.6 2430.7L610.6 2399.5L628.6 2430.7Z"/><path d="M588.3 2410.2L606.3 2379L624.3 2410.2Z"/><path d="M585.6 2405.2L603.6 2374.1L621.6 2405.2Z"/><path d="M582 2426.7L600 2395.5L618 2426.7Z"/><path d="M578.4 2410.1L596.4 2378.9L614.4 2410.1Z"/><path d="M575.1 2415.5L593.1 2384.3L611.1 2415.5Z"/><path d="M572.1 2420L590.1 2388.8L608.1 2420Z"/><path d="M568.9 2402.4L586.9 2371.2L604.9 2402.4Z"/><path d="M566.7 2402.6L584.7 2371.4L602.7 2402.6Z"/><path d="M563.4 2415.3L581.4 2384.1L599.4 2415.3Z"/><path d="M560 2402.1L578 2370.9L596 2402.1Z"/></g>
<g fill="#fff" stroke="#ff0000" stroke-width="3.2"><path d="M1623.2 2581.8L1657.8 2601.8L1623.2 2621.8Z"/><path d="M1594.6 2570.7L1629.2 2590.7L1594.6 2610.7Z"/><path d="M1568.2 2564.6L1602.8 2584.6L1568.2 2604.6Z"/><path d="M1544.4 2564L1579 2584L1544.4 2604Z"/><path d="M1519.2 2554.8L1553.8 2574.8L1519.2 2594.8Z"/><path d="M1495.5 2540.3L1530.1 2560.3L1495.5 2580.3Z"/><path d="M1473.5 2541.6L1508.1 2561.6L1473.5 2581.6Z"/><path d="M1451.8 2541.6L1486.4 2561.6L1451.8 2581.6Z"/><path d="M1429.3 2529.7L1463.9 2549.7L1429.3 2569.7Z"/><path d="M1409.4 2527L1444 2547L1409.4 2567Z"/><path d="M1387.5 2520L1422.1 2540L1387.5 2560Z"/><path d="M1366.5 2514L1401.1 2534L1366.5 2554Z"/><path d="M1347.5 2511L1382.1 2531L1347.5 2551Z"/><path d="M1328.5 2523.2L1363.1 2543.2L1328.5 2563.2Z"/><path d="M1307.7 2511.9L1342.3 2531.9L1307.7 2551.9Z"/><path d="M1289.2 2503L1323.8 2523L1289.2 2543Z"/><path d="M1272 2505.4L1306.6 2525.4L1272 2545.4Z"/><path d="M1255.9 2498.2L1290.5 2518.2L1255.9 2538.2Z"/><path d="M1239.8 2495.3L1274.4 2515.3L1239.8 2535.3Z"/><path d="M1221.4 2486.3L1256 2506.3L1221.4 2526.3Z"/><path d="M1204.7 2486.9L1239.3 2506.9L1204.7 2526.9Z"/><path d="M1189.2 2482.8L1223.8 2502.8L1189.2 2522.8Z"/><path d="M1174.5 2481L1209.1 2501L1174.5 2521Z"/><path d="M1159.3 2476.9L1193.9 2496.9L1159.3 2516.9Z"/><path d="M1145.4 2472.7L1180 2492.7L1145.4 2512.7Z"/><path d="M1131.5 2458.8L1166.1 2478.8L1131.5 2498.8Z"/><path d="M1117.5 2451.9L1152.1 2471.9L1117.5 2491.9Z"/><path d="M1102.3 2449.1L1136.9 2469.1L1102.3 2489.1Z"/><path d="M1088.5 2440.8L1123.1 2460.8L1088.5 2480.8Z"/><path d="M1073.2 2432L1107.8 2452L1073.2 2472Z"/><path d="M1049.5 2438L1084.1 2458L1049.5 2478Z"/><path d="M1039.8 2429.7L1074.4 2449.7L1039.8 2469.7Z"/><path d="M1019 2417.2L1053.6 2437.2L1019 2457.2Z"/><path d="M1006.5 2407.4L1041.1 2427.4L1006.5 2447.4Z"/><path d="M996.8 2393L1031.4 2413L996.8 2433Z"/><path d="M991.5 2399.7L1026.1 2419.7L991.5 2439.7Z"/><path d="M985.4 2406.5L1020.1 2426.5L985.4 2446.5Z"/><path d="M976.3 2408.7L1011 2428.7L976.3 2448.7Z"/><path d="M970 2400L1004.6 2420L970 2440Z"/><path d="M959.6 2394.9L994.2 2414.9L959.6 2434.9Z"/><path d="M954.5 2391.6L989.2 2411.6L954.5 2431.6Z"/><path d="M946.4 2380.5L981 2400.5L946.4 2420.5Z"/><path d="M937.5 2387.4L972.1 2407.4L937.5 2427.4Z"/><path d="M930.2 2376.3L964.8 2396.3L930.2 2416.3Z"/><path d="M924.8 2384.3L959.4 2404.3L924.8 2424.3Z"/><path d="M918.6 2378.8L953.2 2398.8L918.6 2418.8Z"/><path d="M911.4 2372L946 2392L911.4 2412Z"/><path d="M902 2370.2L936.7 2390.2L902 2410.2Z"/><path d="M897.9 2382.3L932.6 2402.3L897.9 2422.3Z"/><path d="M890.1 2365.6L924.8 2385.6L890.1 2405.6Z"/><path d="M883.2 2367.8L917.8 2387.8L883.2 2407.8Z"/><path d="M877 2360.1L911.6 2380.1L877 2400.1Z"/><path d="M871 2371.2L905.6 2391.2L871 2411.2Z"/><path d="M862.2 2356.7L896.8 2376.7L862.2 2396.7Z"/><path d="M858.9 2359.4L893.6 2379.4L858.9 2399.4Z"/><path d="M851.5 2367L886.1 2387L851.5 2407Z"/><path d="M843.4 2343L878 2363L843.4 2383Z"/><path d="M838.3 2345.4L873 2365.4L838.3 2385.4Z"/><path d="M832.1 2354.5L866.7 2374.5L832.1 2394.5Z"/><path d="M828 2336.1L862.7 2356.1L828 2376.1Z"/><path d="M820 2349.2L854.6 2369.2L820 2389.2Z"/><path d="M816.3 2339.3L850.9 2359.3L816.3 2379.3Z"/><path d="M810.6 2332.7L845.2 2352.7L810.6 2372.7Z"/><path d="M804.9 2337.4L839.5 2357.4L804.9 2377.4Z"/><path d="M797.3 2335.8L831.9 2355.8L797.3 2375.8Z"/><path d="M792.2 2329L826.9 2349L792.2 2369Z"/><path d="M787.2 2324.5L821.8 2344.5L787.2 2364.5Z"/><path d="M780.7 2329.7L815.4 2349.7L780.7 2369.7Z"/><path d="M776.5 2322.1L811.1 2342.1L776.5 2362.1Z"/><path d="M770.7 2324.1L805.4 2344.1L770.7 2364.1Z"/><path d="M766 2321.5L800.6 2341.5L766 2361.5Z"/><path d="M759.9 2326.6L794.5 2346.6L759.9 2366.6Z"/><path d="M754.9 2322L789.5 2342L754.9 2362Z"/><path d="M750.6 2325.7L785.2 2345.7L750.6 2365.7Z"/><path d="M744.7 2315.7L779.3 2335.7L744.7 2355.7Z"/><path d="M739.7 2331.9L774.3 2351.9L739.7 2371.9Z"/><path d="M734 2321L768.6 2341L734 2361Z"/><path d="M730.2 2314.7L764.8 2334.7L730.2 2354.7Z"/><path d="M724.5 2326.3L759.2 2346.3L724.5 2366.3Z"/><path d="M720.4 2318L755.1 2338L720.4 2358Z"/><path d="M716.4 2330.3L751 2350.3L716.4 2370.3Z"/><path d="M709.4 2322.5L744.1 2342.5L709.4 2362.5Z"/><path d="M705.8 2313.7L740.4 2333.7L705.8 2353.7Z"/><path d="M701 2316.8L735.7 2336.8L701 2356.8Z"/><path d="M697.4 2311.3L732 2331.3L697.4 2351.3Z"/><path d="M691.1 2304.1L725.7 2324.1L691.1 2344.1Z"/><path d="M686.8 2314.3L721.5 2334.3L686.8 2354.3Z"/><path d="M682.7 2311.2L717.4 2331.2L682.7 2351.2Z"/><path d="M678.6 2299.1L713.2 2319.1L678.6 2339.1Z"/><path d="M675.3 2297.6L710 2317.6L675.3 2337.6Z"/><path d="M669.1 2314.7L703.8 2334.7L669.1 2354.7Z"/><path d="M666.6 2303.4L701.3 2323.4L666.6 2343.4Z"/><path d="M660.5 2291.5L695.1 2311.5L660.5 2331.5Z"/><path d="M657.1 2307.5L691.7 2327.5L657.1 2347.5Z"/><path d="M653.5 2295.2L688.1 2315.2L653.5 2335.2Z"/><path d="M649.6 2288.1L684.3 2308.1L649.6 2328.1Z"/><path d="M645.7 2286.5L680.4 2306.5L645.7 2326.5Z"/><path d="M640.7 2287.1L675.4 2307.1L640.7 2327.1Z"/><path d="M637.2 2285.5L671.8 2305.5L637.2 2325.5Z"/><path d="M633.1 2293.2L667.7 2313.2L633.1 2333.2Z"/><path d="M629.5 2295L664.2 2315L629.5 2335Z"/><path d="M624.8 2284.2L659.4 2304.2L624.8 2324.2Z"/><path d="M620.4 2277L655.1 2297L620.4 2317Z"/><path d="M617.6 2290.5L652.2 2310.5L617.6 2330.5Z"/><path d="M613.5 2284.9L648.1 2304.9L613.5 2324.9Z"/></g>
<g fill="#fff" stroke="#ff0000" stroke-width="3.2"><path d="M1610.3 2465L1614.1 2476L1625.7 2476.2L1616.5 2483.2L1619.8 2494.3L1610.3 2487.7L1600.8 2494.3L1604.1 2483.2L1594.9 2476.2L1606.5 2476Z"/><path d="M1579.7 2459.5L1583.5 2470.5L1595.1 2470.7L1585.9 2477.7L1589.2 2488.8L1579.7 2482.2L1570.2 2488.8L1573.5 2477.7L1564.3 2470.7L1575.9 2470.5Z"/><path d="M1549.2 2458.1L1553 2469.1L1564.6 2469.3L1555.4 2476.3L1558.7 2487.4L1549.2 2480.8L1539.7 2487.4L1543 2476.3L1533.8 2469.3L1545.4 2469.1Z"/><path d="M1518.6 2442.2L1522.4 2453.2L1534 2453.4L1524.8 2460.4L1528.1 2471.5L1518.6 2464.9L1509.1 2471.5L1512.4 2460.4L1503.2 2453.4L1514.8 2453.2Z"/><path d="M1488 2442.2L1491.8 2453.2L1503.4 2453.4L1494.2 2460.4L1497.5 2471.5L1488 2464.9L1478.5 2471.5L1481.8 2460.4L1472.6 2453.4L1484.2 2453.2Z"/><path d="M1461.7 2434.5L1465.5 2445.5L1477.1 2445.7L1467.9 2452.7L1471.2 2463.8L1461.7 2457.2L1452.2 2463.8L1455.5 2452.7L1446.3 2445.7L1457.9 2445.5Z"/><path d="M1435.3 2431.8L1439.1 2442.8L1450.7 2443L1441.5 2450L1444.8 2461.1L1435.3 2454.5L1425.8 2461.1L1429.1 2450L1419.9 2443L1431.5 2442.8Z"/><path d="M1411.7 2425.8L1415.5 2436.8L1427.1 2437L1417.9 2444L1421.2 2455.1L1411.7 2448.5L1402.2 2455.1L1405.5 2444L1396.3 2437L1407.9 2436.8Z"/><path d="M1388 2416.4L1391.8 2427.4L1403.4 2427.6L1394.2 2434.6L1397.5 2445.7L1388 2439.1L1378.5 2445.7L1381.8 2434.6L1372.6 2427.6L1384.2 2427.4Z"/><path d="M1367.2 2410.8L1371 2421.8L1382.6 2422L1373.4 2429L1376.7 2440.1L1367.2 2433.5L1357.7 2440.1L1361 2429L1351.8 2422L1363.4 2421.8Z"/><path d="M1346.4 2421.8L1350.2 2432.8L1361.8 2433L1352.6 2440L1355.9 2451.1L1346.4 2444.5L1336.9 2451.1L1340.2 2440L1331 2433L1342.6 2432.8Z"/><path d="M1327 2415.6L1330.8 2426.6L1342.4 2426.8L1333.2 2433.8L1336.5 2444.9L1327 2438.3L1317.5 2444.9L1320.8 2433.8L1311.6 2426.8L1323.2 2426.6Z"/><path d="M1308.9 2410.8L1312.7 2421.8L1324.3 2422L1315.1 2429L1318.4 2440.1L1308.9 2433.5L1299.4 2440.1L1302.7 2429L1293.5 2422L1305.1 2421.8Z"/><path d="M1290.8 2405.3L1294.6 2416.3L1306.2 2416.5L1297 2423.5L1300.3 2434.6L1290.8 2428L1281.3 2434.6L1284.6 2423.5L1275.4 2416.5L1287 2416.3Z"/><path d="M1270 2398.4L1273.8 2409.4L1285.4 2409.6L1276.2 2416.6L1279.5 2427.7L1270 2421.1L1260.5 2427.7L1263.8 2416.6L1254.6 2409.6L1266.2 2409.4Z"/><path d="M1253.3 2392.8L1257.1 2403.8L1268.7 2404L1259.5 2411L1262.8 2422.1L1253.3 2415.5L1243.8 2422.1L1247.1 2411L1237.9 2404L1249.5 2403.8Z"/><path d="M1232.5 2389.8L1236.3 2400.8L1247.9 2401L1238.7 2408L1242 2419.1L1232.5 2412.5L1223 2419.1L1226.3 2408L1217.1 2401L1228.7 2400.8Z"/><path d="M1228 2390.7L1231.8 2401.7L1243.4 2401.9L1234.2 2408.9L1237.5 2420L1228 2413.4L1218.5 2420L1221.8 2408.9L1212.6 2401.9L1224.2 2401.7Z"/><path d="M1216 2376.4L1219.8 2387.4L1231.4 2387.6L1222.1 2394.6L1225.5 2405.7L1216 2399.1L1206.4 2405.7L1209.8 2394.6L1200.5 2387.6L1212.1 2387.4Z"/><path d="M1203 2372.9L1206.8 2383.8L1218.4 2384.1L1209.2 2391.1L1212.5 2402.2L1203 2395.5L1193.5 2402.2L1196.9 2391.1L1187.6 2384.1L1199.2 2383.8Z"/><path d="M1188 2372.4L1191.8 2383.3L1203.4 2383.5L1194.2 2390.6L1197.6 2401.7L1188 2395L1178.5 2401.7L1181.9 2390.6L1172.6 2383.5L1184.2 2383.3Z"/><path d="M1173.8 2371.1L1177.6 2382L1189.2 2382.3L1179.9 2389.3L1183.3 2400.4L1173.8 2393.8L1164.3 2400.4L1167.6 2389.3L1158.4 2382.3L1170 2382Z"/><path d="M1164.1 2366.5L1167.9 2377.5L1179.5 2377.7L1170.3 2384.7L1173.7 2395.8L1164.1 2389.2L1154.6 2395.8L1158 2384.7L1148.7 2377.7L1160.3 2377.5Z"/><path d="M1150.1 2364.8L1153.9 2375.7L1165.5 2376L1156.2 2383L1159.6 2394.1L1150.1 2387.4L1140.5 2394.1L1143.9 2383L1134.7 2376L1146.3 2375.7Z"/><path d="M1137.5 2344.8L1141.4 2355.8L1153 2356L1143.7 2363.1L1147.1 2374.2L1137.5 2367.5L1128 2374.2L1131.4 2363.1L1122.1 2356L1133.7 2355.8Z"/><path d="M1124.1 2351.8L1127.9 2362.8L1139.5 2363L1130.2 2370L1133.6 2381.1L1124.1 2374.5L1114.6 2381.1L1117.9 2370L1108.7 2363L1120.3 2362.8Z"/><path d="M1113.3 2351L1117.1 2361.9L1128.7 2362.2L1119.5 2369.2L1122.8 2380.3L1113.3 2373.6L1103.8 2380.3L1107.2 2369.2L1097.9 2362.2L1109.5 2361.9Z"/><path d="M1102.9 2353.7L1106.7 2364.6L1118.3 2364.9L1109.1 2371.9L1112.4 2383L1102.9 2376.3L1093.4 2383L1096.7 2371.9L1087.5 2364.9L1099.1 2364.6Z"/><path d="M1091.9 2343.9L1095.7 2354.9L1107.3 2355.1L1098 2362.1L1101.4 2373.3L1091.9 2366.6L1082.3 2373.3L1085.7 2362.1L1076.4 2355.1L1088 2354.9Z"/><path d="M1079.5 2350.8L1083.3 2361.7L1094.9 2362L1085.7 2369L1089 2380.1L1079.5 2373.4L1070 2380.1L1073.3 2369L1064.1 2362L1075.7 2361.7Z"/><path d="M1069.7 2337.6L1073.5 2348.6L1085.1 2348.8L1075.8 2355.9L1079.2 2367L1069.7 2360.3L1060.1 2367L1063.5 2355.9L1054.2 2348.8L1065.8 2348.6Z"/><path d="M1057.6 2339.8L1061.4 2350.8L1073 2351L1063.7 2358L1067.1 2369.1L1057.6 2362.5L1048 2369.1L1051.4 2358L1042.2 2351L1053.8 2350.8Z"/><path d="M1047.9 2334.2L1051.7 2345.1L1063.3 2345.4L1054 2352.4L1057.4 2363.5L1047.9 2356.9L1038.3 2363.5L1041.7 2352.4L1032.5 2345.4L1044.1 2345.1Z"/><path d="M1035.4 2328.3L1039.2 2339.2L1050.8 2339.4L1041.6 2346.5L1045 2357.6L1035.4 2350.9L1025.9 2357.6L1029.3 2346.5L1020 2339.4L1031.6 2339.2Z"/><path d="M1027.4 2312.5L1031.2 2323.5L1042.8 2323.7L1033.6 2330.7L1036.9 2341.8L1027.4 2335.2L1017.9 2341.8L1021.2 2330.7L1012 2323.7L1023.6 2323.5Z"/><path d="M1015.8 2311.7L1019.6 2322.7L1031.2 2322.9L1021.9 2329.9L1025.3 2341.1L1015.8 2334.4L1006.3 2341.1L1009.6 2329.9L1000.4 2322.9L1012 2322.7Z"/><path d="M1005.3 2310.7L1009.1 2321.6L1020.7 2321.8L1011.4 2328.9L1014.8 2340L1005.3 2333.3L995.7 2340L999.1 2328.9L989.8 2321.8L1001.4 2321.6Z"/><path d="M997 2299.2L1000.8 2310.1L1012.4 2310.4L1003.1 2317.4L1006.5 2328.5L997 2321.9L987.4 2328.5L990.8 2317.4L981.6 2310.4L993.2 2310.1Z"/><path d="M987 2307.6L990.8 2318.5L1002.4 2318.8L993.1 2325.8L996.5 2336.9L987 2330.3L977.4 2336.9L980.8 2325.8L971.5 2318.8L983.1 2318.5Z"/><path d="M973.2 2290L977 2301L988.6 2301.2L979.4 2308.2L982.7 2319.3L973.2 2312.7L963.7 2319.3L967 2308.2L957.8 2301.2L969.4 2301Z"/><path d="M966.4 2289.6L970.2 2300.6L981.8 2300.8L972.5 2307.8L975.9 2318.9L966.4 2312.3L956.9 2318.9L960.2 2307.8L951 2300.8L962.6 2300.6Z"/><path d="M957.4 2296.1L961.2 2307.1L972.8 2307.3L963.6 2314.3L966.9 2325.4L957.4 2318.8L947.9 2325.4L951.3 2314.3L942 2307.3L953.6 2307.1Z"/><path d="M949.3 2298.2L953.2 2309.2L964.8 2309.4L955.5 2316.4L958.9 2327.5L949.3 2320.9L939.8 2327.5L943.2 2316.4L933.9 2309.4L945.5 2309.2Z"/><path d="M936.9 2282.3L940.7 2293.2L952.3 2293.4L943.1 2300.5L946.5 2311.6L936.9 2304.9L927.4 2311.6L930.8 2300.5L921.5 2293.4L933.1 2293.2Z"/><path d="M929.1 2282.8L933 2293.8L944.6 2294L935.3 2301L938.7 2312.1L929.1 2305.5L919.6 2312.1L923 2301L913.7 2294L925.3 2293.8Z"/><path d="M919.1 2271.6L922.9 2282.6L934.5 2282.8L925.3 2289.8L928.6 2300.9L919.1 2294.3L909.6 2300.9L912.9 2289.8L903.7 2282.8L915.3 2282.6Z"/><path d="M911.4 2273.3L915.2 2284.3L926.8 2284.5L917.6 2291.5L920.9 2302.6L911.4 2296L901.9 2302.6L905.3 2291.5L896 2284.5L907.6 2284.3Z"/><path d="M902.7 2262L906.5 2273L918.1 2273.2L908.9 2280.2L912.2 2291.3L902.7 2284.7L893.2 2291.3L896.5 2280.2L887.3 2273.2L898.9 2273Z"/><path d="M894.7 2274.9L898.5 2285.9L910.1 2286.1L900.8 2293.1L904.2 2304.2L894.7 2297.6L885.2 2304.2L888.5 2293.1L879.3 2286.1L890.9 2285.9Z"/><path d="M888.8 2267.1L892.6 2278L904.2 2278.3L895 2285.3L898.3 2296.4L888.8 2289.8L879.3 2296.4L882.6 2285.3L873.4 2278.3L885 2278Z"/><path d="M878.2 2261.7L882 2272.7L893.6 2272.9L884.3 2279.9L887.7 2291L878.2 2284.4L868.7 2291L872 2279.9L862.8 2272.9L874.4 2272.7Z"/><path d="M872.2 2250.4L876 2261.4L887.6 2261.6L878.3 2268.6L881.7 2279.7L872.2 2273.1L862.6 2279.7L866 2268.6L856.7 2261.6L868.3 2261.4Z"/><path d="M862.6 2249.3L866.4 2260.2L878 2260.5L868.8 2267.5L872.1 2278.6L862.6 2272L853.1 2278.6L856.4 2267.5L847.2 2260.5L858.8 2260.2Z"/><path d="M856.9 2255.2L860.7 2266.1L872.3 2266.4L863.1 2273.4L866.4 2284.5L856.9 2277.9L847.4 2284.5L850.7 2273.4L841.5 2266.4L853.1 2266.1Z"/><path d="M848.8 2246.7L852.6 2257.6L864.2 2257.9L854.9 2264.9L858.3 2276L848.8 2269.4L839.3 2276L842.6 2264.9L833.4 2257.9L845 2257.6Z"/><path d="M842.2 2244.4L846 2255.4L857.6 2255.6L848.4 2262.6L851.7 2273.7L842.2 2267.1L832.7 2273.7L836 2262.6L826.8 2255.6L838.4 2255.4Z"/><path d="M831.6 2237.7L835.4 2248.6L847 2248.9L837.7 2255.9L841.1 2267L831.6 2260.3L822 2267L825.4 2255.9L816.1 2248.9L827.7 2248.6Z"/><path d="M826.1 2242.9L829.9 2253.9L841.5 2254.1L832.2 2261.1L835.6 2272.2L826.1 2265.6L816.5 2272.2L819.9 2261.1L810.6 2254.1L822.2 2253.9Z"/><path d="M820.1 2249.4L823.9 2260.4L835.5 2260.6L826.2 2267.6L829.6 2278.8L820.1 2272.1L810.5 2278.8L813.9 2267.6L804.7 2260.6L816.3 2260.4Z"/><path d="M812.9 2235.6L816.7 2246.5L828.3 2246.8L819 2253.8L822.4 2264.9L812.9 2258.3L803.3 2264.9L806.7 2253.8L797.5 2246.8L809.1 2246.5Z"/><path d="M803.2 2243.3L807 2254.2L818.6 2254.5L809.3 2261.5L812.7 2272.6L803.2 2266L793.7 2272.6L797 2261.5L787.8 2254.5L799.4 2254.2Z"/><path d="M798.4 2233.5L802.2 2244.4L813.8 2244.7L804.6 2251.7L807.9 2262.8L798.4 2256.1L788.9 2262.8L792.2 2251.7L783 2244.7L794.6 2244.4Z"/><path d="M789.3 2243.4L793.1 2254.3L804.7 2254.6L795.4 2261.6L798.8 2272.7L789.3 2266.1L779.8 2272.7L783.1 2261.6L773.9 2254.6L785.5 2254.3Z"/><path d="M784.9 2229.4L788.7 2240.4L800.3 2240.6L791.1 2247.6L794.4 2258.7L784.9 2252.1L775.4 2258.7L778.8 2247.6L769.5 2240.6L781.1 2240.4Z"/><path d="M777 2234.8L780.8 2245.7L792.4 2246L783.1 2253L786.5 2264.1L777 2257.4L767.4 2264.1L770.8 2253L761.6 2246L773.2 2245.7Z"/><path d="M770.3 2240.3L774.1 2251.2L785.7 2251.5L776.4 2258.5L779.8 2269.6L770.3 2262.9L760.8 2269.6L764.1 2258.5L754.9 2251.5L766.5 2251.2Z"/><path d="M764.3 2228.4L768.1 2239.4L779.7 2239.6L770.4 2246.6L773.8 2257.7L764.3 2251.1L754.7 2257.7L758.1 2246.6L748.8 2239.6L760.4 2239.4Z"/><path d="M757.8 2224.9L761.6 2235.9L773.2 2236.1L763.9 2243.1L767.3 2254.2L757.8 2247.6L748.2 2254.2L751.6 2243.1L742.4 2236.1L754 2235.9Z"/><path d="M749.8 2221.1L753.6 2232.1L765.2 2232.3L756 2239.3L759.3 2250.4L749.8 2243.8L740.3 2250.4L743.7 2239.3L734.4 2232.3L746 2232.1Z"/><path d="M744.4 2224.1L748.2 2235.1L759.8 2235.3L750.5 2242.4L753.9 2253.5L744.4 2246.8L734.9 2253.5L738.2 2242.4L729 2235.3L740.6 2235.1Z"/><path d="M738 2231.9L741.8 2242.9L753.4 2243.1L744.2 2250.1L747.5 2261.2L738 2254.6L728.5 2261.2L731.8 2250.1L722.6 2243.1L734.2 2242.9Z"/><path d="M734.1 2221.3L737.9 2232.3L749.5 2232.5L740.3 2239.5L743.6 2250.6L734.1 2244L724.6 2250.6L728 2239.5L718.7 2232.5L730.3 2232.3Z"/><path d="M727 2218.4L730.8 2229.3L742.4 2229.6L733.2 2236.6L736.6 2247.7L727 2241.1L717.5 2247.7L720.9 2236.6L711.6 2229.6L723.2 2229.3Z"/><path d="M720.4 2231.1L724.2 2242.1L735.8 2242.3L726.5 2249.3L729.9 2260.4L720.4 2253.8L710.8 2260.4L714.2 2249.3L704.9 2242.3L716.5 2242.1Z"/><path d="M715.9 2218.9L719.7 2229.9L731.3 2230.1L722.1 2237.1L725.4 2248.3L715.9 2241.6L706.4 2248.3L709.8 2237.1L700.5 2230.1L712.1 2229.9Z"/><path d="M709.9 2219.8L713.7 2230.8L725.3 2231L716 2238.1L719.4 2249.2L709.9 2242.5L700.3 2249.2L703.7 2238.1L694.5 2231L706.1 2230.8Z"/><path d="M702.6 2230.9L706.4 2241.9L718 2242.1L708.8 2249.1L712.1 2260.2L702.6 2253.6L693.1 2260.2L696.4 2249.1L687.2 2242.1L698.8 2241.9Z"/><path d="M697.4 2215.8L701.2 2226.7L712.8 2227L703.5 2234L706.9 2245.1L697.4 2238.4L687.8 2245.1L691.2 2234L682 2227L693.6 2226.7Z"/><path d="M692.4 2211.8L696.2 2222.8L707.8 2223L698.6 2230L701.9 2241.1L692.4 2234.5L682.9 2241.1L686.2 2230L677 2223L688.6 2222.8Z"/><path d="M687.1 2209.7L690.9 2220.7L702.5 2220.9L693.3 2227.9L696.6 2239L687.1 2232.4L677.6 2239L680.9 2227.9L671.7 2220.9L683.3 2220.7Z"/><path d="M680.9 2208L684.7 2219L696.3 2219.2L687 2226.2L690.4 2237.3L680.9 2230.7L671.3 2237.3L674.7 2226.2L665.5 2219.2L677.1 2219Z"/><path d="M674.7 2211.9L678.6 2222.9L690.2 2223.1L680.9 2230.1L684.3 2241.2L674.7 2234.6L665.2 2241.2L668.6 2230.1L659.3 2223.1L670.9 2222.9Z"/><path d="M669.1 2213.7L672.9 2224.6L684.5 2224.9L675.3 2231.9L678.6 2243L669.1 2236.4L659.6 2243L662.9 2231.9L653.7 2224.9L665.3 2224.6Z"/><path d="M664.3 2199L668.1 2210L679.7 2210.2L670.5 2217.2L673.9 2228.3L664.3 2221.7L654.8 2228.3L658.2 2217.2L648.9 2210.2L660.5 2210Z"/><path d="M660.5 2197.6L664.3 2208.6L675.9 2208.8L666.6 2215.8L670 2226.9L660.5 2220.3L650.9 2226.9L654.3 2215.8L645.1 2208.8L656.7 2208.6Z"/><path d="M654.2 2210.1L658 2221L669.6 2221.3L660.4 2228.3L663.7 2239.4L654.2 2232.7L644.7 2239.4L648 2228.3L638.8 2221.3L650.4 2221Z"/><path d="M649 2191.9L652.8 2202.9L664.4 2203.1L655.1 2210.1L658.5 2221.2L649 2214.6L639.4 2221.2L642.8 2210.1L633.6 2203.1L645.2 2202.9Z"/><path d="M644.8 2202.6L648.6 2213.5L660.2 2213.7L651 2220.8L654.4 2231.9L644.8 2225.2L635.3 2231.9L638.7 2220.8L629.4 2213.7L641 2213.5Z"/><path d="M639.3 2187.4L643.1 2198.3L654.7 2198.6L645.4 2205.6L648.8 2216.7L639.3 2210.1L629.8 2216.7L633.1 2205.6L623.9 2198.6L635.5 2198.3Z"/><path d="M634.5 2201.6L638.4 2212.6L650 2212.8L640.7 2219.8L644.1 2230.9L634.5 2224.3L625 2230.9L628.4 2219.8L619.1 2212.8L630.7 2212.6Z"/><path d="M629.1 2197.9L632.9 2208.8L644.5 2209.1L635.2 2216.1L638.6 2227.2L629.1 2220.6L619.5 2227.2L622.9 2216.1L613.6 2209.1L625.2 2208.8Z"/><path d="M625.8 2180.1L629.6 2191L641.2 2191.3L631.9 2198.3L635.3 2209.4L625.8 2202.7L616.3 2209.4L619.6 2198.3L610.4 2191.3L622 2191Z"/><path d="M619.9 2194.7L623.7 2205.6L635.3 2205.9L626.1 2212.9L629.4 2224L619.9 2217.4L610.4 2224L613.8 2212.9L604.5 2205.9L616.1 2205.6Z"/><path d="M615.2 2190.6L619.1 2201.6L630.7 2201.8L621.4 2208.8L624.8 2219.9L615.2 2213.3L605.7 2219.9L609.1 2208.8L599.8 2201.8L611.4 2201.6Z"/><path d="M609.8 2186.7L613.6 2197.7L625.2 2197.9L616 2204.9L619.4 2216L609.8 2209.4L600.3 2216L603.7 2204.9L594.4 2197.9L606 2197.7Z"/><path d="M605.6 2176.3L609.4 2187.2L621 2187.5L611.8 2194.5L615.1 2205.6L605.6 2198.9L596.1 2205.6L599.4 2194.5L590.2 2187.5L601.8 2187.2Z"/><path d="M602.1 2175.2L606 2186.2L617.6 2186.4L608.3 2193.4L611.7 2204.5L602.1 2197.9L592.6 2204.5L596 2193.4L586.7 2186.4L598.3 2186.2Z"/><path d="M598.3 2182.7L602.1 2193.6L613.7 2193.9L604.4 2200.9L607.8 2212L598.3 2205.3L588.8 2212L592.1 2200.9L582.9 2193.9L594.5 2193.6Z"/><path d="M592.2 2181.9L596 2192.9L607.6 2193.1L598.4 2200.1L601.7 2211.2L592.2 2204.6L582.7 2211.2L586.1 2200.1L576.8 2193.1L588.4 2192.9Z"/><path d="M588.7 2170.1L592.5 2181L604.1 2181.2L594.8 2188.3L598.2 2199.4L588.7 2192.7L579.1 2199.4L582.5 2188.3L573.3 2181.2L584.9 2181Z"/><path d="M584.3 2168.2L588.1 2179.1L599.7 2179.4L590.4 2186.4L593.8 2197.5L584.3 2190.9L574.7 2197.5L578.1 2186.4L568.8 2179.4L580.4 2179.1Z"/><path d="M580.4 2166.2L584.2 2177.2L595.8 2177.4L586.5 2184.4L589.9 2195.5L580.4 2188.9L570.9 2195.5L574.2 2184.4L565 2177.4L576.6 2177.2Z"/><path d="M575.3 2161.8L579.1 2172.7L590.7 2173L581.5 2180L584.8 2191.1L575.3 2184.5L565.8 2191.1L569.1 2180L559.9 2173L571.5 2172.7Z"/><path d="M570.6 2151.6L574.4 2162.6L586 2162.8L576.8 2169.8L580.1 2180.9L570.6 2174.3L561.1 2180.9L564.4 2169.8L555.2 2162.8L566.8 2162.6Z"/><path d="M566.1 2151.8L569.9 2162.7L581.5 2163L572.2 2170L575.6 2181.1L566.1 2174.5L556.5 2181.1L559.9 2170L550.6 2163L562.2 2162.7Z"/><path d="M561.8 2155.4L565.6 2166.3L577.2 2166.5L568 2173.6L571.4 2184.7L561.8 2178L552.3 2184.7L555.7 2173.6L546.4 2166.5L558 2166.3Z"/><path d="M559 2147.1L562.8 2158.1L574.4 2158.3L565.1 2165.3L568.5 2176.4L559 2169.8L549.4 2176.4L552.8 2165.3L543.6 2158.3L555.2 2158.1Z"/><path d="M555.6 2154.6L559.4 2165.6L571 2165.8L561.8 2172.8L565.1 2183.9L555.6 2177.3L546.1 2183.9L549.5 2172.8L540.2 2165.8L551.8 2165.6Z"/><path d="M549.8 2158L553.6 2169L565.2 2169.2L555.9 2176.2L559.3 2187.3L549.8 2180.7L540.2 2187.3L543.6 2176.2L534.4 2169.2L546 2169Z"/><path d="M547.3 2151.8L551.1 2162.7L562.7 2163L553.5 2170L556.8 2181.1L547.3 2174.4L537.8 2181.1L541.2 2170L531.9 2163L543.5 2162.7Z"/><path d="M542.4 2138.8L546.2 2149.7L557.8 2150L548.6 2157L551.9 2168.1L542.4 2161.5L532.9 2168.1L536.2 2157L527 2150L538.6 2149.7Z"/><path d="M539.4 2137.6L543.3 2148.5L554.9 2148.8L545.6 2155.8L549 2166.9L539.4 2160.3L529.9 2166.9L533.3 2155.8L524 2148.8L535.6 2148.5Z"/><path d="M535.1 2145.3L538.9 2156.3L550.5 2156.5L541.2 2163.5L544.6 2174.6L535.1 2168L525.5 2174.6L528.9 2163.5L519.6 2156.5L531.2 2156.3Z"/><path d="M531.4 2135.7L535.2 2146.7L546.8 2146.9L537.5 2153.9L540.9 2165L531.4 2158.4L521.9 2165L525.2 2153.9L516 2146.9L527.6 2146.7Z"/><path d="M527.4 2139.8L531.2 2150.8L542.8 2151L533.5 2158L536.9 2169.1L527.4 2162.5L517.9 2169.1L521.2 2158L512 2151L523.6 2150.8Z"/><path d="M523.8 2145.8L527.6 2156.7L539.2 2157L530 2164L533.3 2175.1L523.8 2168.4L514.3 2175.1L517.7 2164L508.4 2157L520 2156.7Z"/><path d="M520 2135.6L523.8 2146.6L535.4 2146.8L526.2 2153.8L529.5 2164.9L520 2158.3L510.5 2164.9L513.8 2153.8L504.6 2146.8L516.2 2146.6Z"/></g>
<path d="M485 2159.8L1685.2 2514.3" stroke="#000" stroke-width="6.2" stroke-linecap="round" fill="none"/>
<path d="M565.4 2297.4L1684.4 2609.5" stroke="#000" stroke-width="6.2" stroke-linecap="round" fill="none"/>
<path d="M524.7 2390L2263.7 2968.4" stroke="#000" stroke-width="6.2" stroke-linecap="round" fill="none"/>
<path d="M525.8 3052.4L1866.3 3449.7" stroke="#000" stroke-width="6.2" stroke-linecap="round" fill="none"/>
<path d="M585.4 3105.4L1125 3323" stroke="#000" stroke-width="6.2" stroke-linecap="round" fill="none"/>
<path d="M763.9 3220.2L1866.3 3463.9" stroke="#000" stroke-width="6.2" stroke-linecap="round" fill="none"/>
<path d="M625.2 3321.4L1325.9 3530.3" stroke="#000" stroke-width="6.2" stroke-linecap="round" fill="none"/>
<text x="1626.5" y="2466.4" font-family="Liberation Sans, sans-serif" font-size="86.5" fill="#ff0000">run 104</text>
<text x="1701.5" y="2648.3" font-family="Liberation Sans, sans-serif" font-size="86.5" fill="#ff0000">run 94 b</text>
<text x="1346.5" y="2843.3" font-family="Liberation Sans, sans-serif" font-size="86.5" fill="#ff0000">run 73</text>
<text x="1028.5" y="3163.7" font-family="Liberation Sans, sans-serif" font-size="86.5" fill="#ff0000">run 62a</text>
<text x="408" y="3208.3" font-family="Liberation Sans, sans-serif" font-size="86.5" fill="#ff0000">run 60</text>
<text x="600" y="3492.9" font-family="Liberation Sans, sans-serif" font-size="86.5" fill="#ff0000">run 120</text>
<text x="1489.5" y="3495.3" font-family="Liberation Sans, sans-serif" font-size="86.5" fill="#ff00ff">run 21</text>
</svg></body></html>
